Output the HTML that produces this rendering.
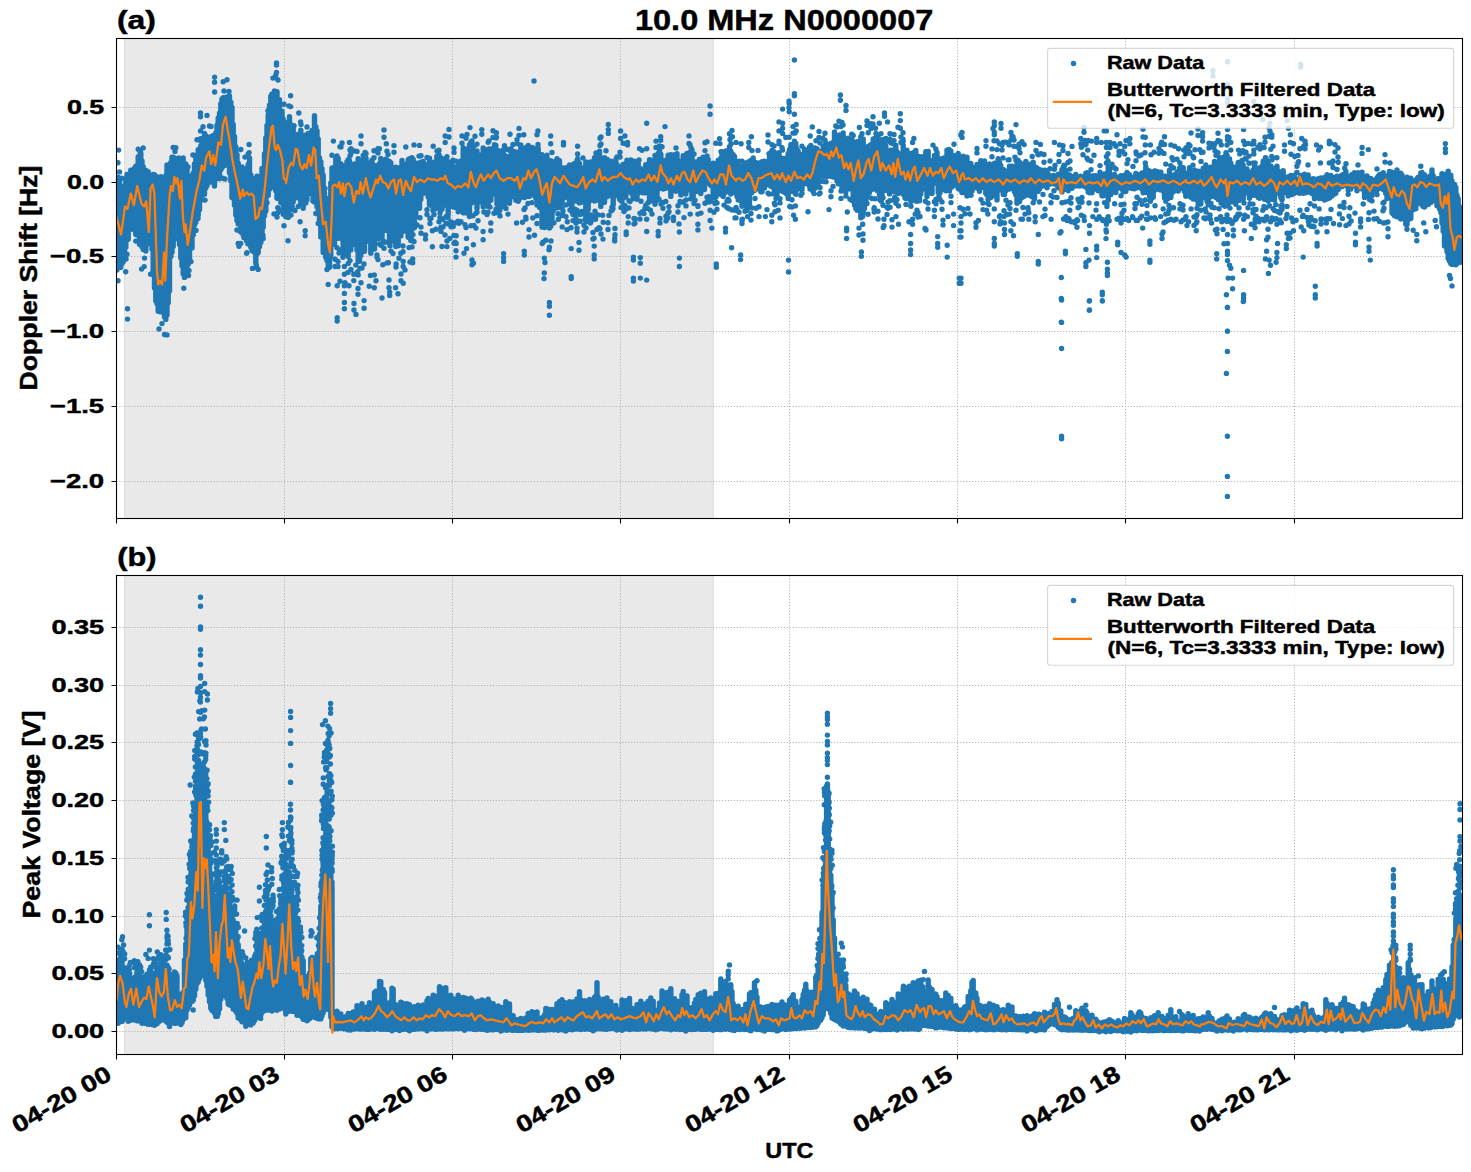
<!DOCTYPE html>
<html><head><meta charset="utf-8"><title>chart</title><style>html,body{margin:0;padding:0;background:#fff;overflow:hidden}svg{display:block}text{stroke:#000;stroke-width:.45px;stroke-linejoin:round}</style></head><body>
<svg width="1471" height="1172" viewBox="0 0 1471 1172" font-family="Liberation Sans, sans-serif" font-weight="bold" fill="#000">
<rect width="1471" height="1172" fill="#fff"/>
<defs><clipPath id="ca"><rect x="116.5" y="38.5" width="1346.0" height="480.0"/></clipPath><clipPath id="cb"><rect x="116.5" y="575.5" width="1346.0" height="479.0"/></clipPath></defs>
<rect x="124" y="38.5" width="589.7" height="480.0" fill="#e9e9e9"/>
<path d="M124.5 38.5V518.5M713.2 38.5V518.5" stroke="#dcdcdc" stroke-width="1" fill="none"/>
<path d="M284.50 38.5V518.5M452.50 38.5V518.5M620.50 38.5V518.5M789.50 38.5V518.5M957.50 38.5V518.5M1125.50 38.5V518.5M1294.50 38.5V518.5M116.5 107.50H1462.5M116.5 182.50H1462.5M116.5 256.50H1462.5M116.5 331.50H1462.5M116.5 406.50H1462.5M116.5 481.50H1462.5" stroke="#b0b0b0" stroke-width="1" stroke-dasharray="1.11 1.83" fill="none"/>
<g clip-path="url(#ca)">
<path d="M117.0 177.6V270.1M118.2 177.2V259.1M119.5 179.5V263.0M120.8 185.7V267.4M122.0 190.0V263.4M123.2 186.4V261.8M124.5 186.9V255.0M125.8 179.6V247.2M127.0 174.4V239.5M128.2 177.6V239.2M129.5 174.5V229.9M130.8 170.3V228.9M132.0 182.7V225.1M133.2 170.8V228.4M134.5 168.1V230.0M135.8 166.3V234.4M137.0 165.7V234.9M138.2 156.8V228.3M139.5 164.1V244.2M140.8 153.0V244.4M142.0 161.0V246.7M143.2 166.7V249.5M144.5 172.6V249.7M145.8 170.1V251.1M147.0 173.3V244.3M148.2 171.7V242.2M149.5 180.1V243.2M150.8 184.9V242.7M152.0 177.1V249.0M153.2 174.5V273.4M154.5 174.7V288.1M155.8 176.2V301.1M157.0 176.9V303.5M158.2 184.6V311.2M159.5 180.5V311.3M160.8 176.7V311.9M162.0 188.4V309.3M163.2 187.7V310.4M164.5 179.3V317.1M165.8 175.8V319.4M167.0 164.9V315.1M168.2 166.3V302.8M169.5 168.2V291.0M170.8 162.5V253.0M172.0 157.3V252.2M173.2 157.1V246.5M174.5 160.3V239.2M175.8 158.4V234.0M177.0 158.8V237.3M178.2 158.1V235.7M179.5 158.1V244.6M180.8 162.2V257.8M182.0 160.3V265.7M183.2 157.9V274.0M184.5 164.6V277.4M185.8 164.0V274.7M187.0 169.4V266.5M188.2 181.4V264.2M189.5 184.9V259.6M190.8 180.9V247.8M192.0 175.4V247.9M193.2 172.9V234.9M194.5 164.0V225.0M195.8 159.0V222.5M197.0 161.3V215.8M198.2 149.7V215.0M199.5 148.6V209.8M200.8 145.6V196.7M202.0 142.8V188.6M203.2 138.2V188.1M204.5 133.4V194.3M205.8 135.8V187.9M207.0 138.4V185.5M208.2 143.1V182.0M209.5 137.2V181.2M210.8 136.7V182.1M212.0 137.0V177.5M213.2 135.5V172.4M214.5 137.6V186.1M215.8 132.8V179.1M217.0 125.3V176.9M218.2 117.9V173.5M219.5 113.1V178.8M220.8 103.8V169.7M222.0 98.9V167.8M223.2 97.8V162.7M224.5 97.9V165.5M225.8 97.8V161.2M227.0 96.9V163.6M228.2 97.1V163.4M229.5 96.0V172.9M230.8 102.1V180.8M232.0 107.4V195.8M233.2 124.4V198.0M234.5 136.5V205.2M235.8 146.8V214.9M237.0 154.4V220.5M238.2 163.1V223.9M239.5 168.2V224.2M240.8 171.1V228.9M242.0 167.0V228.3M243.2 171.7V235.1M244.5 171.7V228.3M245.8 174.8V223.2M247.0 168.2V234.5M248.2 164.5V241.0M249.5 158.0V242.0M250.8 174.9V247.2M252.0 177.9V250.6M253.2 178.7V251.6M254.5 186.1V252.3M255.8 185.3V262.9M257.0 184.1V254.2M258.2 178.8V252.5M259.5 177.0V246.5M260.8 177.4V242.6M262.0 168.5V234.9M263.2 169.7V227.2M264.5 153.8V215.7M265.8 138.0V211.3M267.0 125.5V195.6M268.2 115.0V195.5M269.5 105.3V189.2M270.8 96.2V180.0M272.0 94.0V177.0M273.2 96.9V184.3M274.5 91.0V188.1M275.8 91.6V190.8M277.0 91.8V198.2M278.2 99.4V196.5M279.5 99.8V198.1M280.8 111.7V202.4M282.0 111.2V201.5M283.2 119.2V214.3M284.5 125.2V213.5M285.8 127.8V216.8M287.0 129.5V214.4M288.2 122.1V217.4M289.5 116.7V208.6M290.8 124.4V208.2M292.0 126.6V209.1M293.2 127.0V202.0M294.5 139.7V198.4M295.8 135.0V197.0M297.0 137.6V193.6M298.2 134.3V189.1M299.5 139.8V198.6M300.8 130.3V204.4M302.0 139.6V204.1M303.2 142.3V208.2M304.5 137.9V201.4M305.8 134.9V202.9M307.0 140.0V199.7M308.2 133.4V189.9M309.5 134.5V193.4M310.8 138.6V191.9M312.0 130.4V191.4M313.2 131.0V200.2M314.5 115.8V201.9M315.8 126.8V200.7M317.0 130.6V206.7M318.2 139.0V213.0M319.5 157.7V220.9M320.8 161.7V237.0M322.0 168.6V236.7M323.2 175.3V250.2M324.5 192.6V244.7M325.8 203.9V257.4M327.0 205.8V260.6M328.2 207.6V265.7M329.5 197.9V267.3M330.8 183.0V256.6M332.0 167.9V240.9M333.2 168.2V231.0M334.5 167.5V244.4M335.8 158.5V218.8M337.0 156.0V238.4M338.2 158.4V225.4M339.5 164.0V236.9M340.8 163.8V238.5M342.0 165.5V236.8M343.2 166.4V251.1M344.5 166.2V231.0M345.8 165.7V223.3M347.0 161.6V232.7M348.2 159.8V256.6M349.5 160.6V248.1M350.8 165.2V249.9M352.0 169.3V235.7M353.2 168.4V239.1M354.5 163.9V230.8M355.8 167.6V245.1M357.0 167.1V250.2M358.2 158.6V261.4M359.5 168.7V261.2M360.8 165.7V255.4M362.0 160.1V233.4M363.2 164.3V236.1M364.5 165.7V251.2M365.8 160.0V241.7M367.0 169.4V237.5M368.2 165.5V233.3M369.5 162.6V234.8M370.8 165.3V253.3M372.0 160.2V225.7M373.2 165.9V230.2M374.5 165.4V249.0M375.8 171.7V235.2M377.0 165.4V218.6M378.2 166.2V238.9M379.5 163.6V236.2M380.8 158.5V236.9M382.0 164.4V238.0M383.2 168.2V206.9M384.5 165.5V230.4M385.8 159.2V216.9M387.0 159.9V230.6M388.2 168.2V210.2M389.5 161.5V243.2M390.8 162.6V222.4M392.0 173.0V237.0M393.2 168.5V241.1M394.5 170.2V226.1M395.8 167.2V246.6M397.0 172.8V231.0M398.2 172.4V245.7M399.5 167.8V223.0M400.8 167.8V235.9M402.0 160.4V230.9M403.2 170.5V230.2M404.5 169.3V231.0M405.8 168.3V217.3M407.0 163.9V224.3M408.2 159.8V237.3M409.5 158.7V228.6M410.8 165.4V240.5M412.0 157.8V229.4M413.2 159.5V225.9M414.5 164.0V227.5M415.8 164.2V217.0M417.0 163.1V203.8M418.2 165.8V197.4M419.5 164.4V208.3M420.8 162.2V199.4M422.0 165.5V187.5M423.2 161.4V193.4M424.5 165.9V190.1M425.8 167.7V188.6M427.0 168.9V189.4M428.2 163.9V197.0M429.5 158.3V205.0M430.8 169.0V194.9M432.0 164.1V196.6M433.2 164.1V208.0M434.5 162.0V187.6M435.8 163.8V208.7M437.0 157.1V208.0M438.2 157.7V193.5M439.5 163.1V204.5M440.8 157.8V209.6M442.0 168.0V209.3M443.2 165.7V202.2M444.5 158.9V205.1M445.8 158.7V199.1M447.0 171.7V189.4M448.2 161.6V214.3M449.5 167.9V200.4M450.8 163.0V201.9M452.0 164.2V206.3M453.2 167.2V199.3M454.5 168.3V207.2M455.8 168.1V195.2M457.0 166.8V206.2M458.2 162.3V211.8M459.5 168.8V206.1M460.8 161.3V209.2M462.0 160.4V195.4M463.2 147.7V212.8M464.5 151.1V212.5M465.8 150.8V212.9M467.0 149.4V209.5M468.2 148.7V203.7M469.5 144.6V216.5M470.8 142.2V198.5M472.0 149.3V202.7M473.2 150.1V190.6M474.5 156.2V190.4M475.8 155.9V201.0M477.0 150.9V208.6M478.2 155.2V195.0M479.5 158.2V200.5M480.8 155.0V201.9M482.0 161.2V195.1M483.2 147.9V206.7M484.5 151.5V199.2M485.8 155.4V206.0M487.0 150.8V198.3M488.2 149.3V206.2M489.5 149.0V194.3M490.8 149.0V200.2M492.0 151.0V192.3M493.2 150.9V193.9M494.5 144.8V193.0M495.8 145.3V191.7M497.0 153.6V204.3M498.2 150.7V192.7M499.5 151.9V206.6M500.8 154.0V206.0M502.0 153.3V196.8M503.2 149.7V206.5M504.5 155.1V205.6M505.8 157.6V195.7M507.0 158.6V199.2M508.2 157.0V195.9M509.5 156.3V203.2M510.8 158.3V197.2M512.0 154.5V193.9M513.2 160.8V188.6M514.5 160.0V196.9M515.8 152.0V200.3M517.0 152.7V198.7M518.2 157.3V201.3M519.5 153.1V198.8M520.8 144.9V193.3M522.0 151.5V189.4M523.2 150.8V196.8M524.5 148.1V197.6M525.8 149.7V191.0M527.0 146.7V196.2M528.2 145.5V196.4M529.5 150.1V196.3M530.8 149.0V190.2M532.0 147.4V192.1M533.2 148.2V194.9M534.5 150.6V192.9M535.8 149.0V198.0M537.0 150.7V204.9M538.2 148.3V198.0M539.5 157.2V207.3M540.8 164.2V207.4M542.0 154.6V227.1M543.2 163.1V223.9M544.5 157.3V227.5M545.8 163.3V226.7M547.0 157.6V224.9M548.2 161.3V226.3M549.5 161.3V228.0M550.8 160.8V226.3M552.0 167.0V218.4M553.2 164.7V210.5M554.5 161.8V208.5M555.8 167.1V203.3M557.0 168.9V197.1M558.2 164.3V205.3M559.5 160.8V187.8M560.8 167.8V193.3M562.0 168.4V202.6M563.2 167.9V192.2M564.5 168.7V197.8M565.8 171.1V192.4M567.0 167.5V191.3M568.2 174.4V191.1M569.5 165.0V204.1M570.8 171.9V198.0M572.0 173.6V204.1M573.2 165.2V193.8M574.5 171.7V199.6M575.8 177.1V190.0M577.0 171.6V201.3M578.2 164.7V194.6M579.5 163.4V202.9M580.8 167.9V202.5M582.0 171.2V198.9M583.2 170.3V196.5M584.5 167.4V199.6M585.8 162.3V208.4M587.0 162.2V201.6M588.2 163.5V209.4M589.5 169.3V200.9M590.8 162.0V195.5M592.0 166.3V196.8M593.2 164.5V198.9M594.5 157.6V201.1M595.8 160.2V200.1M597.0 158.7V200.1M598.2 154.5V192.7M599.5 151.2V190.4M600.8 160.5V206.4M602.0 163.5V201.7M603.2 163.2V189.3M604.5 157.6V202.3M605.8 164.3V195.2M607.0 159.3V196.8M608.2 165.0V192.2M609.5 166.7V194.6M610.8 161.2V193.9M612.0 165.6V196.3M613.2 169.6V204.7M614.5 165.5V195.9M615.8 159.5V192.7M617.0 164.6V195.1M618.2 169.6V189.2M619.5 169.9V199.1M620.8 170.2V185.3M622.0 166.1V197.3M623.2 164.5V187.7M624.5 164.7V186.7M625.8 163.5V197.1M627.0 160.2V185.5M628.2 165.7V191.7M629.5 166.8V186.5M630.8 160.0V192.3M632.0 166.6V193.7M633.2 165.3V198.8M634.5 161.3V198.3M635.8 168.3V185.7M637.0 167.8V199.3M638.2 163.5V192.8M639.5 169.9V187.4M640.8 168.6V187.4M642.0 169.1V192.5M643.2 170.5V186.5M644.5 170.6V192.9M645.8 164.8V179.7M647.0 168.8V186.4M648.2 166.8V192.7M649.5 159.8V201.6M650.8 161.0V187.7M652.0 160.2V200.7M653.2 167.1V189.8M654.5 167.5V200.3M655.8 160.0V190.3M657.0 158.4V198.1M658.2 153.5V189.2M659.5 146.0V182.8M660.8 154.3V183.6M662.0 160.3V181.0M663.2 166.4V189.0M664.5 161.6V184.8M665.8 160.4V188.2M667.0 159.4V187.4M668.2 155.1V183.9M669.5 161.9V186.8M670.8 154.8V196.4M672.0 161.9V181.8M673.2 157.4V187.2M674.5 154.8V179.8M675.8 157.8V191.3M677.0 153.8V186.2M678.2 160.7V179.8M679.5 161.5V188.8M680.8 162.8V193.7M682.0 162.6V187.2M683.2 155.7V181.1M684.5 163.5V193.2M685.8 156.0V194.1M687.0 156.8V187.9M688.2 165.1V189.7M689.5 159.7V188.4M690.8 163.8V186.1M692.0 155.1V195.4M693.2 166.1V195.8M694.5 161.9V184.4M695.8 163.1V181.9M697.0 161.7V191.3M698.2 162.9V181.6M699.5 159.4V181.7M700.8 159.5V193.6M702.0 158.6V179.9M703.2 157.1V189.6M704.5 160.2V189.6M705.8 161.8V182.7M707.0 155.9V179.6M708.2 159.4V183.4M709.5 163.9V183.2M710.8 165.9V185.6M712.0 166.1V185.5M713.2 163.3V195.1M714.5 166.8V191.2M715.8 163.8V195.2M717.0 163.7V186.1M718.2 160.1V191.3M719.5 163.8V190.6M720.8 158.3V194.6M722.0 152.0V192.8M723.2 156.3V196.5M724.5 151.6V191.6M725.8 150.9V192.3M727.0 158.3V187.1M728.2 153.8V188.6M729.5 146.8V188.7M730.8 151.1V194.0M732.0 153.7V190.4M733.2 154.6V187.6M734.5 156.5V192.5M735.8 161.9V185.1M737.0 168.3V196.6M738.2 165.5V200.0M739.5 168.4V200.1M740.8 167.1V194.9M742.0 165.9V206.3M743.2 167.4V202.4M744.5 166.4V201.5M745.8 163.0V204.5M747.0 163.6V210.0M748.2 161.9V199.6M749.5 167.8V204.2M750.8 160.5V193.5M752.0 160.3V192.6M753.2 158.0V187.8M754.5 166.8V190.4M755.8 162.5V188.6M757.0 167.6V187.7M758.2 172.6V188.8M759.5 163.0V185.6M760.8 162.9V191.7M762.0 161.8V191.8M763.2 161.9V187.9M764.5 161.1V187.9M765.8 165.6V184.6M767.0 163.5V181.7M768.2 161.4V184.6M769.5 156.7V181.2M770.8 164.2V186.3M772.0 161.4V186.7M773.2 155.2V187.4M774.5 165.1V192.2M775.8 164.4V185.2M777.0 157.7V195.1M778.2 166.5V181.0M779.5 156.1V190.4M780.8 165.4V190.3M782.0 159.3V189.5M783.2 158.5V191.8M784.5 165.2V188.6M785.8 158.2V193.2M787.0 161.3V193.9M788.2 153.5V198.5M789.5 149.7V190.5M790.8 144.7V191.3M792.0 144.8V189.7M793.2 150.9V191.7M794.5 149.2V189.1M795.8 143.4V194.2M797.0 149.0V189.8M798.2 151.3V185.0M799.5 157.1V180.9M800.8 156.4V187.1M802.0 154.5V189.5M803.2 154.4V182.1M804.5 149.2V179.4M805.8 154.1V183.6M807.0 156.6V181.6M808.2 152.0V179.2M809.5 147.0V185.9M810.8 145.5V187.3M812.0 148.4V181.1M813.2 148.5V185.0M814.5 147.9V188.4M815.8 148.2V187.6M817.0 148.6V178.3M818.2 151.3V183.0M819.5 152.3V175.5M820.8 151.5V172.3M822.0 151.1V170.1M823.2 146.2V176.4M824.5 153.4V171.7M825.8 143.3V169.5M827.0 146.8V176.6M828.2 148.9V170.7M829.5 150.9V170.0M830.8 143.5V176.2M832.0 144.7V164.6M833.2 142.5V177.0M834.5 132.0V173.6M835.8 137.8V173.2M837.0 136.8V180.8M838.2 136.1V183.7M839.5 134.9V181.6M840.8 135.0V184.1M842.0 138.9V188.6M843.2 132.9V185.9M844.5 145.1V182.9M845.8 144.1V192.3M847.0 143.2V185.4M848.2 138.3V185.9M849.5 145.4V188.8M850.8 146.9V187.9M852.0 139.8V189.1M853.2 142.6V198.6M854.5 143.2V193.5M855.8 144.1V197.8M857.0 141.8V200.6M858.2 143.0V209.4M859.5 146.0V207.2M860.8 136.9V217.8M862.0 141.5V213.1M863.2 138.9V213.2M864.5 147.7V208.6M865.8 148.1V200.5M867.0 151.8V196.5M868.2 146.4V192.2M869.5 147.0V192.4M870.8 144.8V190.1M872.0 148.6V188.8M873.2 139.0V188.6M874.5 143.5V189.0M875.8 137.4V189.1M877.0 144.0V190.5M878.2 137.2V190.3M879.5 142.2V195.5M880.8 145.0V184.6M882.0 144.5V195.4M883.2 139.4V189.4M884.5 144.6V183.6M885.8 146.0V190.4M887.0 154.9V188.1M888.2 155.4V188.8M889.5 154.4V193.9M890.8 150.2V188.5M892.0 150.3V182.4M893.2 153.0V185.6M894.5 158.1V192.1M895.8 145.1V187.7M897.0 151.7V187.6M898.2 153.2V193.4M899.5 155.8V184.4M900.8 160.9V184.9M902.0 158.9V182.8M903.2 145.2V194.2M904.5 150.0V187.6M905.8 158.2V194.3M907.0 150.3V194.4M908.2 160.3V182.4M909.5 153.4V194.7M910.8 163.7V179.9M912.0 158.6V198.5M913.2 152.7V194.6M914.5 165.1V186.7M915.8 150.4V201.0M917.0 156.5V201.3M918.2 156.2V191.0M919.5 158.9V200.7M920.8 169.1V193.9M922.0 156.6V185.6M923.2 158.8V185.0M924.5 158.1V186.0M925.8 151.8V189.6M927.0 152.6V196.6M928.2 151.4V191.0M929.5 166.6V189.5M930.8 164.8V177.6M932.0 161.7V193.6M933.2 160.2V183.4M934.5 155.5V178.3M935.8 163.2V181.0M937.0 152.5V183.5M938.2 158.5V192.6M939.5 158.8V180.7M940.8 162.5V181.9M942.0 161.9V177.8M943.2 158.1V189.6M944.5 157.7V178.1M945.8 169.8V190.8M947.0 150.2V175.1M948.2 150.3V180.5M949.5 162.6V191.1M950.8 151.0V183.4M952.0 161.8V187.0M953.2 158.6V183.4M954.5 155.7V183.1M955.8 162.6V178.6M957.0 158.3V185.7M958.2 153.4V188.5M959.5 158.3V188.5M960.8 158.9V190.3M962.0 158.8V192.6M963.2 156.2V190.1M964.5 159.1V189.0M965.8 162.0V193.2M967.0 157.2V183.8M968.2 164.7V191.2M969.5 171.2V187.1M970.8 163.5V184.5M972.0 173.3V191.1M973.2 171.9V188.2M974.5 167.4V187.4M975.8 170.8V186.7M977.0 164.4V188.1M978.2 168.1V187.8M979.5 166.9V191.2M980.8 160.7V186.9M982.0 166.9V187.2M983.2 167.2V185.4M984.5 161.0V186.4M985.8 169.3V193.5M987.0 167.2V194.9M988.2 164.6V195.2M989.5 164.0V190.8M990.8 166.3V197.6M992.0 167.6V193.9M993.2 165.3V195.5M994.5 163.1V195.5M995.8 163.6V193.1M997.0 165.0V199.9M998.2 158.8V190.0M999.5 162.2V189.7M1000.8 165.5V188.7M1002.0 170.4V187.4M1003.2 169.5V194.6M1004.5 172.1V194.4M1005.8 171.1V190.8M1007.0 171.3V189.6M1008.2 171.7V187.8M1009.5 166.1V189.1M1010.8 169.6V181.8M1012.0 166.3V188.3M1013.2 173.1V188.0M1014.5 170.3V191.7M1015.8 168.6V194.8M1017.0 164.3V203.3M1018.2 166.8V196.7M1019.5 162.1V201.8M1020.8 174.3V198.4M1022.0 171.1V197.5M1023.2 163.9V196.7M1024.5 168.2V196.0M1025.8 161.5V188.1M1027.0 165.0V192.2M1028.2 168.1V195.0M1029.5 164.3V194.4M1030.8 166.7V196.1M1032.0 169.6V196.7M1033.2 162.2V196.3M1034.5 167.7V199.1M1035.8 167.1V185.9M1037.0 168.3V186.0M1038.2 168.9V191.3M1039.5 173.7V189.0M1040.8 169.9V179.7M1042.0 171.0V186.2M1043.2 172.6V182.6M1044.5 170.2V185.4M1045.8 170.5V181.8M1047.0 172.5V187.7M1048.2 174.2V183.7M1049.5 178.0V184.2M1050.8 178.3V182.1M1052.0 177.5V182.5M1053.2 175.5V183.8M1054.5 175.7V183.3M1055.8 180.1V183.5M1057.0 178.6V185.4M1058.2 174.3V187.8M1059.5 174.5V187.9M1060.8 173.7V187.2M1062.0 169.5V191.9M1063.2 167.3V189.7M1064.5 175.4V188.6M1065.8 170.4V188.8M1067.0 175.3V189.8M1068.2 174.8V190.7M1069.5 175.0V186.6M1070.8 176.3V187.0M1072.0 176.4V188.3M1073.2 177.9V183.3M1074.5 176.8V186.1M1075.8 174.5V184.5M1077.0 178.2V185.7M1078.2 178.1V185.4M1079.5 179.0V186.1M1080.8 176.3V183.6M1082.0 179.8V184.4M1083.2 180.5V186.0M1084.5 177.5V185.7M1085.8 173.1V187.0M1087.0 172.8V188.0M1088.2 173.1V191.9M1089.5 176.9V192.8M1090.8 181.2V189.3M1092.0 176.2V192.8M1093.2 175.6V189.0M1094.5 180.2V189.0M1095.8 175.7V188.2M1097.0 177.7V188.8M1098.2 177.0V190.8M1099.5 180.0V189.7M1100.8 176.0V190.8M1102.0 184.8V195.8M1103.2 181.3V195.7M1104.5 173.9V195.0M1105.8 175.4V188.4M1107.0 176.8V194.8M1108.2 169.5V200.2M1109.5 168.1V192.4M1110.8 180.8V194.5M1112.0 176.2V192.2M1113.2 176.4V189.9M1114.5 174.4V190.3M1115.8 179.9V192.6M1117.0 177.1V186.9M1118.2 178.3V184.4M1119.5 183.8V187.7M1120.8 175.8V188.1M1122.0 177.5V189.2M1123.2 180.6V191.8M1124.5 175.3V186.5M1125.8 178.4V191.4M1127.0 174.6V187.5M1128.2 178.8V188.0M1129.5 174.8V187.5M1130.8 178.0V186.6M1132.0 178.9V188.6M1133.2 177.2V187.5M1134.5 177.5V188.7M1135.8 173.4V184.8M1137.0 174.9V187.8M1138.2 174.4V186.3M1139.5 176.7V182.3M1140.8 177.3V184.0M1142.0 173.0V189.2M1143.2 174.8V192.7M1144.5 172.4V189.0M1145.8 166.7V192.2M1147.0 169.9V189.4M1148.2 172.2V191.2M1149.5 171.0V196.0M1150.8 175.7V199.7M1152.0 172.6V195.5M1153.2 174.0V197.2M1154.5 171.0V190.6M1155.8 171.2V185.7M1157.0 176.0V188.5M1158.2 172.0V185.1M1159.5 176.9V189.8M1160.8 172.2V189.5M1162.0 182.9V183.6M1163.2 177.8V191.2M1164.5 176.2V198.0M1165.8 176.5V201.2M1167.0 178.3V196.0M1168.2 176.1V198.6M1169.5 170.2V195.1M1170.8 177.7V197.4M1172.0 175.5V193.0M1173.2 178.3V190.0M1174.5 174.6V191.1M1175.8 174.3V187.9M1177.0 172.2V189.0M1178.2 171.4V191.0M1179.5 168.3V189.0M1180.8 167.2V187.0M1182.0 170.9V180.5M1183.2 167.7V188.0M1184.5 174.4V191.5M1185.8 173.1V196.3M1187.0 176.4V194.6M1188.2 173.6V194.7M1189.5 167.7V195.8M1190.8 173.4V197.3M1192.0 176.9V195.4M1193.2 174.8V199.0M1194.5 170.0V199.0M1195.8 174.2V199.3M1197.0 181.5V196.5M1198.2 171.1V204.4M1199.5 174.5V193.8M1200.8 177.9V204.1M1202.0 171.6V196.7M1203.2 168.3V196.3M1204.5 172.3V195.4M1205.8 165.0V198.0M1207.0 174.5V201.2M1208.2 171.1V201.6M1209.5 171.2V192.4M1210.8 167.2V196.8M1212.0 169.4V191.1M1213.2 167.6V194.6M1214.5 161.4V194.3M1215.8 166.2V197.4M1217.0 165.2V194.6M1218.2 163.9V199.4M1219.5 157.5V199.7M1220.8 166.7V198.9M1222.0 168.7V194.6M1223.2 157.4V200.9M1224.5 160.6V200.4M1225.8 155.6V194.5M1227.0 155.1V193.7M1228.2 162.5V204.1M1229.5 158.7V200.0M1230.8 163.2V201.3M1232.0 166.8V201.9M1233.2 177.0V198.8M1234.5 168.2V200.9M1235.8 167.0V204.3M1237.0 170.5V195.9M1238.2 162.5V196.9M1239.5 168.8V200.3M1240.8 167.8V190.0M1242.0 160.5V195.6M1243.2 165.1V198.9M1244.5 172.6V193.6M1245.8 174.9V192.4M1247.0 168.9V184.8M1248.2 173.8V191.0M1249.5 179.1V198.2M1250.8 174.6V193.4M1252.0 171.6V195.4M1253.2 170.0V189.1M1254.5 164.9V195.1M1255.8 173.9V194.3M1257.0 172.3V190.8M1258.2 169.5V197.5M1259.5 167.7V198.3M1260.8 167.6V191.9M1262.0 166.1V196.1M1263.2 161.3V198.0M1264.5 165.1V199.2M1265.8 168.3V198.4M1267.0 160.7V197.2M1268.2 161.4V201.1M1269.5 169.2V194.8M1270.8 166.0V192.2M1272.0 169.1V199.2M1273.2 168.3V194.2M1274.5 168.4V200.1M1275.8 168.7V192.5M1277.0 166.2V191.5M1278.2 171.3V191.4M1279.5 173.4V193.8M1280.8 172.7V197.6M1282.0 175.2V197.9M1283.2 170.8V191.6M1284.5 181.6V190.8M1285.8 178.5V191.1M1287.0 177.3V193.1M1288.2 176.6V195.9M1289.5 180.2V191.6M1290.8 175.5V194.4M1292.0 177.3V194.6M1293.2 178.9V191.6M1294.5 175.1V193.3M1295.8 182.2V189.3M1297.0 184.0V189.9M1298.2 179.2V188.4M1299.5 179.2V193.3M1300.8 175.4V190.2M1302.0 177.3V190.9M1303.2 182.9V193.2M1304.5 174.3V191.3M1305.8 179.2V192.7M1307.0 179.0V189.4M1308.2 175.0V191.0M1309.5 178.9V187.9M1310.8 180.9V192.8M1312.0 179.5V193.6M1313.2 178.6V194.3M1314.5 179.1V198.7M1315.8 181.0V197.5M1317.0 179.3V190.2M1318.2 178.9V198.0M1319.5 180.0V198.5M1320.8 177.9V194.7M1322.0 181.2V198.3M1323.2 180.3V197.0M1324.5 177.4V200.1M1325.8 178.0V198.3M1327.0 174.8V199.1M1328.2 180.5V196.6M1329.5 180.3V198.0M1330.8 175.4V194.6M1332.0 177.8V196.0M1333.2 181.3V190.4M1334.5 177.4V193.9M1335.8 177.5V193.2M1337.0 176.3V188.1M1338.2 178.1V189.4M1339.5 176.5V187.4M1340.8 176.8V183.8M1342.0 175.2V186.5M1343.2 174.4V184.5M1344.5 175.8V185.4M1345.8 171.3V184.0M1347.0 177.9V186.0M1348.2 176.3V190.0M1349.5 180.1V187.1M1350.8 176.7V189.0M1352.0 174.4V185.8M1353.2 177.3V185.9M1354.5 172.7V184.4M1355.8 174.7V185.6M1357.0 173.9V190.7M1358.2 172.6V187.4M1359.5 174.0V186.1M1360.8 174.6V186.7M1362.0 172.2V189.0M1363.2 178.1V186.8M1364.5 181.6V197.4M1365.8 180.2V190.3M1367.0 175.9V195.7M1368.2 183.1V193.4M1369.5 180.2V199.5M1370.8 178.5V196.3M1372.0 184.0V195.7M1373.2 182.2V191.3M1374.5 181.4V188.2M1375.8 179.7V187.2M1377.0 177.9V190.1M1378.2 176.2V188.4M1379.5 174.6V187.9M1380.8 174.3V188.2M1382.0 176.7V185.1M1383.2 172.7V189.5M1384.5 175.1V190.3M1385.8 177.6V193.4M1387.0 179.8V198.5M1388.2 176.4V196.6M1389.5 171.4V195.4M1390.8 177.0V189.2M1392.0 172.2V212.8M1393.2 175.5V214.0M1394.5 177.0V215.8M1395.8 173.7V215.3M1397.0 169.9V216.8M1398.2 173.0V201.5M1399.5 185.0V209.7M1400.8 173.2V219.1M1402.0 175.2V205.0M1403.2 182.5V206.9M1404.5 181.4V216.0M1405.8 182.6V224.3M1407.0 177.2V224.6M1408.2 183.7V219.6M1409.5 180.8V214.0M1410.8 178.2V218.5M1412.0 181.2V191.6M1413.2 183.1V209.7M1414.5 181.3V207.3M1415.8 180.2V208.8M1417.0 178.8V202.6M1418.2 177.3V203.0M1419.5 177.7V193.7M1420.8 172.9V201.3M1422.0 172.5V204.9M1423.2 179.4V206.5M1424.5 174.7V207.0M1425.8 182.4V205.1M1427.0 184.6V202.6M1428.2 177.4V204.5M1429.5 176.5V186.8M1430.8 175.6V202.6M1432.0 169.9V201.3M1433.2 175.8V193.1M1434.5 178.9V191.6M1435.8 184.5V198.8M1437.0 178.9V205.7M1438.2 178.7V201.5M1439.5 180.9V208.7M1440.8 181.1V212.6M1442.0 173.8V223.1M1443.2 180.5V231.2M1444.5 183.2V246.1M1445.8 174.2V246.5M1447.0 179.0V251.6M1448.2 179.4V258.4M1449.5 179.2V261.1M1450.8 175.2V263.6M1452.0 180.9V264.4M1453.2 184.4V263.2M1454.5 184.4V260.3M1455.8 187.4V264.7M1457.0 195.3V263.5M1458.2 198.7V254.5M1459.5 206.7V252.5M1460.8 208.3V262.2" stroke="#1f77b4" stroke-width="5.4" stroke-linecap="round" fill="none"/>
<path d="M119.5 171.9h0M127.0 254.2h0M135.8 241.1h0M138.2 149.3h0M143.2 147.9h0M144.5 258.1h0M164.5 334.5h0M167.0 334.9h0M173.2 147.4h0M175.8 147.8h0M199.5 140.0h0M207.0 115.4h0M209.5 126.0h0M223.2 81.8h0M223.2 178.3h0M227.0 79.8h0M238.2 243.4h0M240.8 149.5h0M248.2 153.9h0M258.2 269.4h0M263.2 238.6h0M275.8 75.1h0M293.2 209.6h0M298.2 206.4h0M315.8 213.5h0M318.2 223.4h0M323.2 252.4h0M328.2 284.4h0M332.0 155.3h0M339.5 250.0h0M342.0 143.0h0M342.0 251.7h0M348.2 263.4h0M350.8 153.8h0M354.5 150.9h0M355.8 265.1h0M358.2 274.9h0M363.2 155.5h0M377.0 254.9h0M379.5 244.1h0M387.0 151.3h0M400.8 253.3h0M419.5 145.4h0M437.0 151.0h0M453.2 226.5h0M474.5 145.6h0M488.2 142.3h0M504.5 145.6h0M517.0 139.8h0M525.8 217.2h0M537.0 134.7h0M545.8 240.3h0M585.8 211.8h0M603.2 222.2h0M617.0 157.0h0M623.2 143.2h0M639.5 148.6h0M645.8 205.1h0M655.8 201.6h0M665.8 201.4h0M683.2 202.0h0M690.8 198.8h0M692.0 149.9h0M710.8 201.2h0M715.8 143.2h0M719.5 138.6h0M728.2 199.3h0M729.5 133.8h0M732.0 130.5h0M737.0 209.6h0M742.0 222.1h0M752.0 207.9h0M778.2 154.1h0M785.8 137.5h0M800.8 195.2h0M802.0 193.3h0M835.8 125.9h0M837.0 126.9h0M853.2 135.4h0M854.5 204.9h0M855.8 208.4h0M868.2 132.8h0M872.0 198.6h0M880.8 199.5h0M888.2 141.3h0M890.8 142.7h0M897.0 199.6h0M903.2 141.2h0M905.8 198.5h0M935.8 148.9h0M960.8 134.9h0M1008.2 159.9h0M1028.2 209.4h0M1033.2 202.7h0M1038.2 154.8h0M1039.5 202.0h0M1053.2 197.1h0M1104.5 202.6h0M1107.0 204.8h0M1142.0 204.2h0M1170.8 165.6h0M1200.8 210.3h0M1208.2 204.8h0M1219.5 141.8h0M1223.2 204.9h0M1227.0 145.0h0M1253.2 162.9h0M1253.2 209.6h0M1265.8 207.7h0M1269.5 205.7h0M1270.8 149.2h0M1272.0 159.8h0M1274.5 210.5h0M1275.8 204.6h0M1282.0 200.0h0M1314.5 206.0h0M1332.0 162.9h0M1338.2 162.2h0M1348.2 194.3h0M1363.2 203.9h0M1377.0 168.9h0M1377.0 194.5h0M1413.2 230.2h0M1420.8 166.3h0M1425.8 231.7h0M1448.2 171.3h0M1449.5 275.5h0M1452.0 285.9h0M118.6 150.1h0M140.3 150.1h0M140.3 153.9h0M214.6 77.1h0M214.6 82.2h0M214.6 92.0h0M200.5 113.0h0M200.5 116.8h0M200.5 130.9h0M200.5 138.6h0M249.1 144.5h0M249.1 152.6h0M276.5 63.0h0M276.5 65.1h0M276.5 72.5h0M277.8 79.7h0M127.5 308.8h0M127.5 319.1h0M141.6 269.1h0M144.2 266.6h0M150.6 274.3h0M183.8 288.3h0M189.0 270.4h0M188.5 275.5h0M240.7 232.0h0M240.7 243.5h0M246.6 241.0h0M246.6 253.3h0M252.5 268.4h0M256.3 265.3h0M118.0 280.7h0M125.7 271.7h0M277.8 207.7h0M277.8 212.8h0M171.0 256.3h0M290.6 95.8h0M290.6 106.6h0M298.8 113.0h0M300.6 121.9h0M333.4 141.1h0M349.5 142.4h0M361.0 136.0h0M361.0 143.7h0M386.3 143.7h0M379.4 148.8h0M405.8 147.0h0M414.0 144.9h0M433.2 146.2h0M445.2 136.0h0M445.2 142.4h0M481.8 129.6h0M481.8 134.2h0M496.4 132.7h0M496.4 137.3h0M510.0 134.2h0M305.2 230.7h0M305.2 235.8h0M300.1 221.7h0M337.2 317.7h0M337.2 321.1h0M344.4 308.8h0M344.4 302.4h0M344.4 293.4h0M344.4 285.7h0M337.2 285.7h0M344.4 274.2h0M344.4 266.5h0M353.8 280.6h0M353.8 274.2h0M357.7 271.7h0M364.1 308.3h0M364.1 300.6h0M369.2 286.2h0M374.3 287.8h0M370.5 275.5h0M374.3 275.0h0M382.0 298.0h0M389.7 295.5h0M389.7 292.1h0M395.6 287.8h0M403.2 283.2h0M382.8 264.7h0M388.4 262.7h0M396.1 264.0h0M403.2 261.4h0M403.2 266.5h0M412.7 262.7h0M412.7 258.9h0M425.5 235.0h0M425.5 239.1h0M432.4 230.7h0M432.4 246.8h0M449.8 238.4h0M456.2 243.5h0M456.2 235.8h0M466.5 238.4h0M466.5 248.6h0M473.4 244.8h0M473.4 263.2h0M483.1 231.5h0M483.1 239.7h0M490.8 230.7h0M490.8 223.0h0M503.6 253.7h0M503.6 257.6h0M503.6 261.4h0M475.9 228.1h0M447.3 223.8h0M454.9 223.0h0M534.0 81.0h0M537.9 130.9h0M523.8 134.7h0M517.4 143.7h0M550.7 136.0h0M550.7 143.7h0M563.5 142.4h0M563.5 144.9h0M577.6 146.2h0M577.6 153.9h0M577.6 159.0h0M608.3 124.5h0M608.3 129.6h0M608.3 133.4h0M620.6 130.9h0M620.6 138.5h0M624.9 136.0h0M627.5 142.4h0M627.5 144.9h0M646.7 123.2h0M646.7 148.8h0M660.7 136.8h0M660.7 140.3h0M710.1 106.0h0M710.1 114.2h0M732.4 136.8h0M516.6 223.0h0M522.5 222.3h0M532.8 217.9h0M534.5 235.3h0M524.3 251.2h0M524.3 255.0h0M544.3 258.1h0M544.3 272.9h0M549.4 302.4h0M549.4 306.2h0M549.4 315.2h0M549.4 247.3h0M542.2 243.5h0M558.4 219.2h0M562.2 226.9h0M567.3 221.7h0M566.0 216.6h0M571.2 248.6h0M571.2 276.8h0M571.2 278.6h0M577.0 228.1h0M577.0 232.0h0M587.8 217.9h0M590.4 223.0h0M595.5 219.2h0M594.2 246.1h0M594.2 255.0h0M594.2 258.9h0M602.6 215.3h0M614.7 238.4h0M614.7 240.9h0M612.1 210.2h0M626.2 208.9h0M628.2 216.6h0M628.2 223.0h0M626.2 232.0h0M626.2 234.5h0M633.4 257.1h0M633.4 260.1h0M640.3 257.6h0M640.3 263.2h0M633.4 278.1h0M633.4 281.1h0M640.3 278.1h0M646.7 280.1h0M646.7 219.2h0M646.7 231.5h0M642.8 211.5h0M650.5 210.2h0M658.2 231.5h0M658.2 235.8h0M673.5 217.1h0M673.5 220.5h0M679.4 232.0h0M679.4 258.1h0M679.4 266.5h0M690.2 214.1h0M697.9 206.4h0M697.9 214.1h0M697.9 224.3h0M697.9 229.9h0M710.1 210.2h0M710.1 220.5h0M711.9 228.1h0M716.3 264.0h0M716.3 267.3h0M725.5 228.1h0M725.5 232.0h0M731.6 247.8h0M724.0 205.1h0M735.0 210.2h0M735.0 217.9h0M794.4 60.0h0M794.4 93.8h0M794.4 95.8h0M789.2 103.5h0M782.6 109.1h0M789.2 111.7h0M794.4 114.2h0M779.0 121.9h0M782.6 123.2h0M782.6 128.3h0M779.0 130.9h0M796.2 124.5h0M796.2 130.9h0M782.6 133.4h0M779.0 141.1h0M779.0 143.7h0M789.2 137.3h0M794.4 141.1h0M782.6 150.1h0M779.0 152.6h0M789.2 153.9h0M802.0 146.2h0M812.3 127.0h0M810.2 136.0h0M840.4 95.0h0M840.4 100.2h0M859.4 127.5h0M851.7 134.2h0M884.5 113.0h0M884.5 116.3h0M887.5 121.9h0M879.3 123.2h0M875.5 128.3h0M900.3 113.7h0M900.3 120.6h0M900.3 128.3h0M913.9 138.5h0M912.6 142.4h0M751.4 136.8h0M748.8 142.4h0M748.8 147.5h0M741.1 143.7h0M736.0 142.4h0M770.6 152.6h0M736.0 210.2h0M736.0 217.9h0M742.4 219.2h0M747.5 216.6h0M747.5 207.7h0M759.0 216.6h0M765.4 216.6h0M771.8 215.3h0M771.8 221.7h0M778.2 210.2h0M780.0 217.9h0M774.4 203.3h0M789.8 206.4h0M795.4 205.9h0M793.6 215.3h0M795.4 219.2h0M819.2 194.1h0M740.6 255.0h0M740.6 259.6h0M788.5 260.1h0M788.5 271.9h0M847.3 212.0h0M846.6 228.1h0M846.6 230.7h0M846.6 238.4h0M861.4 251.9h0M861.4 256.3h0M862.7 216.6h0M862.7 224.3h0M852.5 200.7h0M874.2 207.7h0M874.2 212.0h0M883.2 227.4h0M881.4 201.3h0M896.0 216.6h0M898.5 224.3h0M898.5 205.9h0M894.7 197.4h0M912.6 219.2h0M912.6 224.3h0M915.2 214.1h0M910.6 234.5h0M910.6 243.5h0M910.6 249.9h0M910.6 254.5h0M934.4 210.2h0M934.4 216.6h0M934.4 201.8h0M937.7 236.6h0M937.7 243.5h0M937.7 247.3h0M947.9 216.6h0M947.2 245.3h0M947.2 257.1h0M953.6 214.1h0M953.6 225.6h0M960.0 207.7h0M960.0 230.7h0M960.0 237.1h0M959.2 278.1h0M959.2 283.2h0M925.4 201.3h0M994.3 121.9h0M994.3 125.8h0M994.3 132.1h0M994.3 134.7h0M999.4 143.7h0M1003.2 142.4h0M1007.1 142.4h0M1009.1 144.9h0M1040.4 144.4h0M1054.4 142.4h0M1059.5 144.9h0M1080.8 138.5h0M1080.8 143.7h0M1083.9 144.9h0M1087.7 141.1h0M1087.7 150.1h0M1091.5 141.1h0M1096.7 138.5h0M1096.7 142.4h0M1101.3 142.4h0M1104.3 130.9h0M1106.4 130.9h0M1106.4 142.4h0M1106.4 147.5h0M1106.4 156.5h0M1114.1 143.7h0M1115.9 146.2h0M1124.8 146.2h0M1124.8 153.9h0M1122.3 151.3h0M1129.9 138.5h0M1129.9 143.7h0M1136.3 153.9h0M1145.3 137.3h0M1145.3 144.9h0M1150.4 144.9h0M1164.5 136.8h0M1164.5 144.4h0M1170.9 144.9h0M1174.7 146.2h0M1178.6 148.8h0M1183.7 150.1h0M1037.8 153.9h0M1032.2 156.5h0M1016.0 160.3h0M1009.1 159.8h0M1054.4 169.3h0M1064.7 165.4h0M1106.4 162.9h0M1108.2 166.7h0M1114.6 168.0h0M1145.3 162.9h0M1165.8 164.1h0M1173.5 168.0h0M1179.9 162.9h0M961.0 216.6h0M961.0 223.0h0M961.0 230.7h0M961.0 237.1h0M961.0 278.1h0M961.0 283.2h0M978.4 220.5h0M986.6 210.2h0M987.9 214.1h0M994.3 208.9h0M994.3 221.7h0M999.4 216.6h0M1000.7 221.7h0M1004.5 223.0h0M1004.5 229.4h0M1004.5 234.5h0M1009.6 214.1h0M1010.9 221.7h0M1013.5 224.3h0M1010.9 230.7h0M1013.5 235.8h0M994.3 238.4h0M994.3 243.5h0M994.3 246.1h0M1016.0 210.2h0M1022.4 219.2h0M1025.0 214.1h0M1028.8 219.2h0M1028.8 212.8h0M1035.2 221.7h0M1035.2 216.6h0M1038.3 234.5h0M1042.9 216.6h0M1051.1 219.2h0M1017.3 253.7h0M1017.3 256.3h0M1038.3 261.4h0M1038.3 264.0h0M1065.4 251.2h0M1065.4 253.7h0M1061.3 277.5h0M1061.3 298.5h0M1061.3 322.3h0M1065.9 216.6h0M1067.2 220.5h0M1069.8 210.2h0M1071.1 221.7h0M1074.9 223.0h0M1077.5 220.5h0M1081.3 215.3h0M1083.9 216.6h0M1089.5 225.6h0M1089.5 233.3h0M1092.8 216.6h0M1096.7 219.2h0M1099.2 216.6h0M1101.8 219.2h0M1106.4 224.3h0M1106.4 232.0h0M1108.2 216.6h0M1114.6 203.8h0M1117.1 219.2h0M1121.0 223.0h0M1124.8 219.2h0M1128.7 220.5h0M1132.5 216.6h0M1137.6 220.5h0M1140.2 217.9h0M1142.7 228.1h0M1146.6 219.2h0M1150.4 217.9h0M1155.5 219.2h0M1160.7 216.6h0M1165.8 221.7h0M1165.8 214.1h0M1170.9 219.2h0M1176.0 219.2h0M1181.1 221.7h0M1185.0 219.2h0M1085.9 249.4h0M1085.9 262.7h0M1085.9 266.5h0M1089.0 260.1h0M1096.7 246.1h0M1096.7 249.9h0M1096.7 257.6h0M1107.4 262.2h0M1107.4 269.1h0M1107.4 272.9h0M1107.4 275.5h0M1117.7 242.2h0M1117.7 244.8h0M1121.0 252.5h0M1124.8 255.0h0M1126.1 257.1h0M1149.9 240.9h0M1149.9 244.3h0M1149.9 260.1h0M1149.9 262.2h0M1102.3 292.1h0M1102.3 294.7h0M1102.3 300.6h0M1089.5 300.6h0M1089.5 310.0h0M1136.3 203.8h0M1145.3 200.0h0M1150.4 201.3h0M1163.2 208.9h0M1173.5 207.7h0M1181.1 208.9h0M1106.9 206.4h0M1096.7 203.8h0M1068.5 201.3h0M1202.6 132.7h0M1202.6 136.8h0M1202.6 141.1h0M1227.5 129.6h0M1227.5 136.8h0M1227.5 139.8h0M1243.6 129.6h0M1243.6 141.1h0M1244.9 144.4h0M1230.8 142.4h0M1230.8 150.1h0M1253.8 141.1h0M1253.8 143.7h0M1253.8 150.1h0M1253.8 153.9h0M1271.8 134.7h0M1271.8 137.3h0M1273.0 146.2h0M1271.8 156.5h0M1276.9 157.7h0M1288.4 128.3h0M1290.4 134.7h0M1290.4 142.4h0M1284.5 144.9h0M1293.5 143.7h0M1284.5 151.3h0M1301.7 138.5h0M1303.7 146.2h0M1299.9 148.8h0M1294.8 156.5h0M1298.6 161.6h0M1316.5 144.9h0M1318.6 150.1h0M1329.3 141.1h0M1329.3 143.7h0M1320.4 162.9h0M1329.3 162.9h0M1362.1 147.5h0M1368.3 149.6h0M1188.6 144.4h0M1188.6 151.3h0M1193.7 157.7h0M1211.6 143.7h0M1212.9 147.0h0M1221.3 144.9h0M1201.4 152.6h0M1218.0 152.6h0M1238.5 150.1h0M1239.8 153.9h0M1264.1 147.5h0M1265.4 157.7h0M1255.1 162.9h0M1244.9 152.6h0M1358.0 164.9h0M1344.7 168.0h0M1186.0 216.6h0M1188.6 221.7h0M1196.2 216.6h0M1196.2 223.0h0M1196.2 230.7h0M1203.9 217.9h0M1210.3 219.2h0M1211.6 223.0h0M1215.4 229.9h0M1216.7 219.2h0M1220.6 216.6h0M1221.8 221.7h0M1223.1 229.4h0M1225.7 219.2h0M1227.5 234.5h0M1227.5 243.5h0M1227.5 251.2h0M1227.5 254.5h0M1227.5 260.6h0M1229.5 265.3h0M1230.8 268.3h0M1228.2 278.1h0M1232.6 278.1h0M1232.6 288.8h0M1226.4 294.7h0M1227.5 307.5h0M1227.5 331.3h0M1233.4 229.9h0M1233.4 235.8h0M1230.8 221.7h0M1235.9 219.2h0M1239.8 214.1h0M1243.6 219.2h0M1244.4 230.7h0M1247.4 216.6h0M1251.3 224.3h0M1251.3 238.4h0M1255.1 219.2h0M1259.0 221.7h0M1262.8 219.2h0M1266.6 216.6h0M1266.6 239.7h0M1266.6 251.2h0M1265.4 258.9h0M1269.2 260.1h0M1270.5 265.3h0M1268.4 273.4h0M1270.5 221.7h0M1274.3 219.2h0M1276.9 224.3h0M1277.6 243.5h0M1276.9 252.5h0M1276.9 257.6h0M1276.1 262.2h0M1287.1 233.3h0M1288.4 238.4h0M1286.3 244.8h0M1286.3 248.6h0M1293.5 230.7h0M1291.5 217.9h0M1293.0 221.7h0M1299.9 210.2h0M1302.5 216.6h0M1301.2 226.9h0M1303.7 230.7h0M1308.4 221.7h0M1310.1 225.6h0M1311.4 219.2h0M1317.1 232.0h0M1317.1 243.5h0M1317.1 246.1h0M1303.2 257.1h0M1325.5 219.2h0M1326.3 223.0h0M1339.6 224.8h0M1346.0 225.6h0M1349.8 207.7h0M1355.5 233.3h0M1355.5 242.2h0M1355.5 244.8h0M1360.6 221.7h0M1360.6 226.9h0M1369.0 212.8h0M1369.0 239.1h0M1369.0 247.3h0M1369.0 251.2h0M1370.3 260.1h0M1383.6 223.0h0M1216.7 253.7h0M1216.7 258.9h0M1243.6 270.4h0M1243.6 294.7h0M1243.6 298.0h0M1243.6 301.1h0M1315.3 286.2h0M1315.3 294.7h0M1315.3 298.0h0M1191.1 208.9h0M1205.2 208.9h0M1214.2 207.7h0M1250.0 203.8h0M1262.8 210.2h0M1310.1 203.8h0M1319.1 208.9h0M1445.4 143.6h0M1445.4 148.7h0M1445.4 152.6h0M1416.8 234.4h0M1416.8 240.8h0M1436.5 226.7h0M1450.5 278.4h0M1407.0 229.3h0M1423.7 222.9h0M1435.2 220.4h0M1063.6 219.0h0M1069.0 218.8h0M1074.0 221.8h0M1076.9 220.0h0M1084.3 220.6h0M1102.9 220.6h0M1106.9 219.2h0M1109.2 220.7h0M1119.3 218.1h0M1121.8 217.9h0M1126.8 218.5h0M1132.8 217.4h0M1136.2 220.4h0M1141.8 216.2h0M1147.5 219.3h0M1154.7 217.7h0M1164.0 222.7h0M1182.8 220.3h0M1196.9 221.8h0M1205.3 218.7h0M1222.0 219.3h0M1225.7 219.1h0M1229.7 219.6h0M1235.6 218.3h0M1244.8 215.2h0M1258.2 218.1h0M1264.5 220.7h0M1266.4 219.2h0M1271.9 218.0h0M1276.2 218.6h0M1281.3 222.7h0M1286.0 218.5h0M1296.1 220.3h0M1303.1 215.1h0M1308.5 220.3h0M1311.1 219.8h0M1315.2 220.8h0M1321.0 219.5h0M1327.5 218.6h0M1329.9 218.7h0M1333.5 223.5h0M1339.4 213.9h0M1342.4 218.6h0M1351.1 220.9h0M1360.6 219.0h0M1368.4 219.4h0M1379.5 221.4h0M1385.6 222.8h0M1387.9 221.9h0M1013.1 137.0h0M1024.2 144.6h0M1081.4 147.3h0M1088.2 140.4h0M1126.0 140.5h0M1161.7 142.3h0M1199.8 149.7h0M1211.4 145.6h0M1248.1 143.4h0M1305.5 144.4h0M1320.5 147.1h0M1330.5 143.0h0M962.0 137.4h0M962.0 132.5h0M963.0 209.3h0M965.0 213.8h0M967.0 196.0h0M968.0 208.4h0M970.0 214.0h0M971.0 195.2h0M976.0 222.7h0M976.0 227.3h0M977.0 152.9h0M977.0 148.5h0M981.0 199.6h0M983.0 203.1h0M983.0 209.6h0M986.0 146.2h0M986.0 140.6h0M988.0 199.5h0M988.0 203.6h0M989.0 204.5h0M992.0 156.8h0M992.0 148.9h0M993.0 128.4h0M994.0 140.7h0M997.0 149.6h0M997.0 140.9h0M1000.0 215.6h0M1000.0 223.9h0M1001.0 128.2h0M1001.0 123.5h0M1002.0 149.9h0M1002.0 145.1h0M1003.0 157.9h0M1004.0 210.8h0M1004.0 216.6h0M1005.0 142.1h0M1006.0 200.2h0M1007.0 214.5h0M1008.0 204.9h0M1010.0 202.8h0M1010.0 208.5h0M1011.0 140.1h0M1011.0 132.4h0M1012.0 136.3h0M1014.0 146.3h0M1014.0 140.0h0M1015.0 157.1h0M1016.0 124.6h0M1017.0 146.6h0M1018.0 160.2h0M1019.0 148.4h0M1019.0 144.2h0M1020.0 152.7h0M1021.0 219.1h0M1022.0 141.7h0M1023.0 207.5h0M1028.0 207.6h0M1036.0 150.5h0M1036.0 142.4h0M1041.0 153.7h0M1043.0 194.4h0M1044.0 162.2h0M1044.0 154.5h0M1045.0 209.1h0M1045.0 215.5h0M1050.0 168.7h0M1050.0 161.0h0M1051.0 195.5h0M1051.0 202.8h0M1054.0 190.8h0M1055.0 165.5h0M1057.0 197.4h0M1059.0 161.4h0M1059.0 154.5h0M1060.0 233.0h0M1061.0 231.7h0M1062.0 202.8h0M1063.0 150.5h0M1063.0 145.8h0M1064.0 165.1h0M1065.0 202.1h0M1068.0 162.5h0M1068.0 153.5h0M1070.0 169.1h0M1070.0 161.0h0M1071.0 197.7h0M1071.0 203.1h0M1072.0 146.4h0M1077.0 219.6h0M1077.0 227.3h0M1078.0 199.1h0M1078.0 207.7h0M1079.0 201.4h0M1079.0 206.9h0M1082.0 197.4h0M1082.0 202.3h0M1083.0 154.7h0M1084.0 132.2h0M1084.0 127.5h0M1085.0 144.9h0M1085.0 140.4h0M1086.0 144.2h0M1087.0 158.1h0M1088.0 159.8h0M1089.0 203.0h0M1091.0 169.6h0M1091.0 160.9h0M1094.0 155.3h0M1096.0 210.1h0M1100.0 172.2h0M1100.0 165.6h0M1106.0 230.0h0M1106.0 238.6h0M1108.0 160.9h0M1108.0 153.7h0M1110.0 147.5h0M1110.0 142.4h0M1112.0 164.3h0M1116.0 169.1h0M1117.0 134.8h0M1119.0 155.3h0M1119.0 151.2h0M1120.0 143.8h0M1121.0 195.8h0M1121.0 204.7h0M1122.0 213.2h0M1122.0 218.3h0M1124.0 204.1h0M1124.0 210.2h0M1127.0 172.5h0M1127.0 163.6h0M1128.0 159.6h0M1133.0 166.4h0M1135.0 203.7h0M1135.0 208.5h0M1136.0 160.7h0M1136.0 151.9h0M1137.0 197.2h0M1139.0 155.9h0M1140.0 200.1h0M1141.0 155.0h0M1143.0 137.0h0M1143.0 129.3h0M1145.0 152.7h0M1147.0 205.6h0M1147.0 213.4h0M1151.0 154.7h0M1154.0 152.2h0M1155.0 205.7h0M1159.0 153.3h0M1159.0 148.4h0M1161.0 151.2h0M1161.0 144.4h0M1162.0 234.1h0M1162.0 238.5h0M1163.0 231.9h0M1164.0 153.4h0M1168.0 213.5h0M1168.0 220.3h0M1169.0 205.5h0M1169.0 210.2h0M1172.0 157.6h0M1173.0 160.0h0M1174.0 220.3h0M1177.0 159.3h0M1180.0 203.6h0M1180.0 208.9h0M1183.0 205.3h0M1183.0 210.0h0M1184.0 156.8h0M1186.0 153.2h0M1186.0 147.6h0M1187.0 225.5h0M1188.0 149.9h0M1189.0 153.5h0M1190.0 152.6h0M1190.0 145.8h0M1191.0 133.0h0M1193.0 165.1h0M1193.0 156.6h0M1194.0 217.0h0M1194.0 225.4h0M1195.0 149.7h0M1197.0 208.3h0M1197.0 214.8h0M1198.0 135.5h0M1198.0 129.0h0M1201.0 161.4h0M1203.0 152.2h0M1206.0 211.9h0M1206.0 217.9h0M1209.0 147.9h0M1209.0 143.3h0M1210.0 214.9h0M1211.0 203.4h0M1212.0 207.3h0M1214.0 145.9h0M1215.0 150.7h0M1215.0 143.6h0M1216.0 155.3h0M1217.0 229.1h0M1217.0 233.7h0M1218.0 140.4h0M1218.0 133.2h0M1219.0 208.8h0M1220.0 141.3h0M1221.0 203.1h0M1224.0 243.7h0M1225.0 206.3h0M1226.0 152.6h0M1227.0 215.0h0M1227.0 221.5h0M1229.0 142.4h0M1229.0 137.5h0M1230.0 208.1h0M1232.0 223.6h0M1233.0 221.3h0M1236.0 217.3h0M1237.0 217.3h0M1238.0 214.3h0M1239.0 207.9h0M1239.0 215.1h0M1243.0 150.7h0M1244.0 202.9h0M1245.0 158.7h0M1245.0 153.0h0M1246.0 159.0h0M1246.0 152.1h0M1248.0 207.7h0M1249.0 163.3h0M1249.0 156.1h0M1252.0 144.0h0M1253.0 204.1h0M1253.0 212.8h0M1255.0 222.6h0M1255.0 227.8h0M1256.0 209.5h0M1256.0 216.3h0M1258.0 147.3h0M1260.0 149.1h0M1260.0 144.8h0M1264.0 206.5h0M1265.0 142.3h0M1265.0 137.2h0M1266.0 157.9h0M1268.0 229.3h0M1268.0 237.2h0M1269.0 136.2h0M1269.0 127.8h0M1270.0 131.1h0M1270.0 123.3h0M1273.0 208.6h0M1278.0 211.7h0M1280.0 213.0h0M1280.0 220.2h0M1281.0 206.2h0M1281.0 210.3h0M1282.0 204.9h0M1282.0 209.2h0M1287.0 206.4h0M1287.0 214.5h0M1290.0 233.1h0M1290.0 238.1h0M1291.0 154.2h0M1297.0 172.4h0M1297.0 166.2h0M1298.0 163.0h0M1298.0 155.4h0M1305.0 148.7h0M1305.0 141.2h0M1307.0 209.4h0M1307.0 217.5h0M1308.0 164.9h0M1309.0 224.9h0M1311.0 217.4h0M1311.0 226.2h0M1313.0 226.2h0M1314.0 226.7h0M1321.0 219.0h0M1321.0 224.0h0M1327.0 231.7h0M1331.0 209.4h0M1333.0 167.4h0M1333.0 161.0h0M1335.0 152.1h0M1335.0 144.6h0M1337.0 169.5h0M1338.0 156.9h0M1338.0 148.0h0M1340.0 206.2h0M1344.0 202.4h0M1344.0 207.5h0M1346.0 163.8h0M1349.0 216.2h0M1349.0 223.9h0M1355.0 213.1h0M1362.0 153.4h0M1372.0 200.9h0M1374.0 211.1h0M1374.0 219.0h0M1377.0 218.7h0M1383.0 202.9h0M1383.0 210.7h0M1384.0 202.2h0M1384.0 208.2h0M1385.0 162.1h0M1385.0 154.6h0M1388.0 228.8h0M1388.0 236.8h0M1390.0 163.0h0M335.0 259.2h0M335.0 266.5h0M337.0 247.7h0M338.0 261.5h0M338.0 266.5h0M339.0 253.1h0M340.0 281.2h0M340.0 146.8h0M341.0 147.1h0M342.0 249.5h0M343.0 252.2h0M343.0 257.2h0M344.0 254.5h0M345.0 282.7h0M348.0 272.4h0M349.0 285.7h0M350.0 260.6h0M350.0 156.0h0M350.0 150.0h0M351.0 269.5h0M351.0 148.7h0M354.0 303.5h0M354.0 310.0h0M355.0 274.1h0M356.0 314.4h0M357.0 151.4h0M358.0 288.4h0M358.0 294.3h0M360.0 268.1h0M361.0 282.8h0M362.0 268.1h0M364.0 264.0h0M365.0 152.4h0M366.0 158.2h0M366.0 153.5h0M374.0 157.8h0M374.0 150.7h0M376.0 280.7h0M377.0 256.9h0M378.0 259.6h0M378.0 153.0h0M378.0 148.6h0M381.0 245.3h0M383.0 241.9h0M384.0 241.5h0M384.0 248.3h0M384.0 137.3h0M384.0 129.9h0M385.0 242.3h0M387.0 262.9h0M388.0 154.4h0M389.0 279.9h0M389.0 287.8h0M390.0 245.8h0M391.0 251.1h0M393.0 253.5h0M394.0 152.2h0M394.0 145.6h0M396.0 267.1h0M398.0 293.8h0M399.0 258.2h0M401.0 274.0h0M401.0 280.7h0M403.0 246.0h0M403.0 251.7h0M405.0 269.9h0M409.0 247.6h0M410.0 262.0h0M412.0 239.9h0M412.0 246.9h0M413.0 234.6h0M414.0 241.5h0M417.0 225.0h0M419.0 156.1h0M420.0 217.7h0M421.0 227.1h0M421.0 233.2h0M421.0 155.8h0M427.0 209.8h0M427.0 214.5h0M427.0 157.4h0M430.0 219.0h0M430.0 223.5h0M431.0 218.3h0M433.0 210.4h0M434.0 209.0h0M434.0 214.4h0M436.0 229.2h0M437.0 156.3h0M439.0 221.8h0M439.0 154.8h0M439.0 150.3h0M440.0 212.9h0M440.0 217.5h0M441.0 227.2h0M441.0 231.4h0M442.0 246.5h0M443.0 219.2h0M443.0 226.9h0M445.0 235.0h0M446.0 216.6h0M446.0 223.5h0M447.0 241.0h0M447.0 246.6h0M447.0 156.8h0M448.0 217.7h0M449.0 137.0h0M449.0 129.4h0M451.0 222.0h0M451.0 226.8h0M453.0 160.2h0M454.0 235.4h0M454.0 243.3h0M454.0 152.4h0M454.0 147.9h0M455.0 242.1h0M456.0 250.8h0M456.0 257.1h0M456.0 161.1h0M458.0 221.1h0M459.0 223.2h0M461.0 221.8h0M462.0 143.3h0M462.0 135.9h0M464.0 253.2h0M465.0 224.6h0M466.0 227.5h0M466.0 138.3h0M467.0 134.4h0M470.0 127.6h0M471.0 225.8h0M472.0 260.0h0M472.0 264.7h0M472.0 140.9h0M473.0 215.8h0M474.0 225.4h0M475.0 136.2h0M476.0 213.2h0M477.0 212.2h0M477.0 144.1h0M478.0 220.7h0M484.0 212.0h0M487.0 214.5h0M488.0 212.2h0M489.0 140.9h0M490.0 207.1h0M493.0 137.4h0M493.0 130.7h0M494.0 213.2h0M495.0 213.0h0M496.0 209.3h0M496.0 137.9h0M499.0 207.7h0M499.0 212.9h0M500.0 209.7h0M500.0 215.9h0M506.0 208.4h0M507.0 149.2h0M508.0 214.1h0M510.0 150.7h0M511.0 148.6h0M512.0 152.6h0M513.0 151.2h0M513.0 144.5h0M519.0 135.5h0M519.0 128.4h0M524.0 209.6h0M525.0 207.9h0M526.0 219.1h0M528.0 203.5h0M529.0 229.6h0M529.0 237.0h0M532.0 202.6h0M537.0 215.7h0M537.0 223.5h0M538.0 144.4h0M543.0 242.3h0M544.0 278.6h0M545.0 262.5h0M547.0 155.1h0M549.0 249.7h0M551.0 240.9h0M552.0 152.5h0M554.0 222.7h0M557.0 158.6h0M558.0 207.7h0M558.0 213.8h0M560.0 205.6h0M562.0 207.9h0M562.0 215.5h0M563.0 211.0h0M563.0 215.2h0M566.0 204.9h0M567.0 229.6h0M570.0 209.9h0M571.0 227.7h0M572.0 207.2h0M572.0 211.9h0M573.0 214.5h0M573.0 220.6h0M574.0 163.7h0M575.0 209.2h0M575.0 214.3h0M576.0 218.4h0M576.0 223.1h0M577.0 210.2h0M577.0 160.7h0M578.0 161.3h0M579.0 242.4h0M579.0 250.2h0M580.0 214.4h0M580.0 221.2h0M582.0 211.5h0M583.0 158.0h0M584.0 225.3h0M584.0 232.0h0M585.0 214.9h0M585.0 219.6h0M586.0 221.7h0M586.0 228.0h0M588.0 214.5h0M588.0 219.0h0M589.0 216.4h0M591.0 215.0h0M591.0 221.7h0M592.0 217.6h0M593.0 232.4h0M593.0 239.0h0M594.0 238.2h0M595.0 211.1h0M595.0 215.9h0M596.0 153.0h0M597.0 229.5h0M598.0 214.9h0M599.0 227.8h0M600.0 228.6h0M600.0 145.5h0M600.0 138.3h0M601.0 234.0h0M601.0 143.9h0M601.0 137.0h0M603.0 239.1h0M606.0 150.7h0M608.0 222.7h0M608.0 229.5h0M609.0 215.4h0M611.0 210.9h0M612.0 207.3h0M613.0 208.4h0M615.0 228.5h0M615.0 234.7h0M620.0 157.0h0M620.0 152.2h0M621.0 200.8h0M621.0 207.6h0M622.0 201.3h0M623.0 198.2h0M623.0 206.1h0M624.0 211.6h0M625.0 205.4h0M626.0 143.7h0M629.0 200.8h0M629.0 207.9h0M630.0 201.5h0M634.0 218.5h0M634.0 223.9h0M635.0 218.8h0M635.0 223.0h0M639.0 160.0h0M640.0 213.3h0M640.0 219.0h0M641.0 201.2h0M642.0 150.3h0M644.0 213.6h0M645.0 208.2h0M647.0 208.3h0M648.0 202.8h0M648.0 208.6h0M652.0 214.1h0M655.0 204.3h0M655.0 155.4h0M656.0 147.4h0M656.0 141.1h0M659.0 199.2h0M660.0 218.5h0M660.0 222.9h0M661.0 204.1h0M662.0 146.8h0M663.0 202.5h0M663.0 208.2h0M665.0 126.6h0M666.0 216.2h0M666.0 220.9h0M668.0 213.2h0M668.0 218.1h0M669.0 206.6h0M669.0 211.8h0M676.0 147.9h0M678.0 205.8h0M678.0 212.0h0M679.0 223.9h0M680.0 201.5h0M681.0 194.9h0M681.0 202.1h0M684.0 217.6h0M686.0 199.9h0M686.0 205.9h0M687.0 153.4h0M689.0 143.4h0M689.0 135.9h0M690.0 152.2h0M690.0 144.7h0M691.0 153.5h0M691.0 147.6h0M693.0 196.8h0M694.0 203.5h0M694.0 154.0h0M695.0 200.2h0M698.0 205.6h0M701.0 213.1h0M705.0 203.2h0M705.0 150.6h0M705.0 142.7h0M707.0 197.3h0M707.0 201.9h0M707.0 141.8h0M709.0 196.8h0M709.0 202.0h0M713.0 197.6h0M714.0 212.2h0M715.0 203.6h0M716.0 197.1h0M716.0 202.1h0M717.0 202.9h0M717.0 209.3h0M720.0 143.6h0M721.0 151.6h0M727.0 201.0h0M727.0 207.5h0M729.0 201.0h0M729.0 208.7h0M730.0 139.8h0M731.0 144.0h0M731.0 136.9h0M732.0 210.0h0M736.0 207.5h0M739.0 212.2h0M739.0 161.2h0M742.0 219.5h0M742.0 223.6h0M742.0 161.1h0M745.0 211.3h0M746.0 210.8h0M751.0 213.5h0M751.0 220.1h0M752.0 150.6h0M755.0 198.5h0M756.0 208.2h0M758.0 150.4h0M759.0 206.7h0M767.0 209.6h0M768.0 193.1h0M768.0 142.0h0M768.0 135.0h0M769.0 194.0h0M769.0 153.6h0M771.0 153.5h0M772.0 150.5h0M772.0 144.8h0M773.0 193.9h0M774.0 151.7h0M774.0 146.0h0M775.0 204.8h0M775.0 211.7h0M776.0 198.6h0M780.0 198.8h0M780.0 202.9h0M782.0 147.7h0M789.0 107.6h0M789.0 101.2h0M792.0 199.8h0M792.0 207.1h0M793.0 133.1h0M793.0 126.6h0M795.0 133.0h0M808.0 211.7h0M810.0 189.1h0M813.0 191.2h0M814.0 189.2h0M814.0 193.6h0M816.0 140.7h0M819.0 137.5h0M819.0 131.4h0M820.0 187.4h0M820.0 192.9h0M820.0 143.0h0M821.0 181.2h0M823.0 138.3h0M824.0 181.6h0M825.0 140.2h0M825.0 133.3h0M826.0 181.8h0M829.0 209.6h0M831.0 190.7h0M831.0 196.8h0M833.0 186.4h0M839.0 121.2h0M841.0 191.1h0M841.0 198.4h0M841.0 126.6h0M842.0 122.4h0M843.0 124.9h0M846.0 196.1h0M846.0 110.4h0M846.0 105.4h0M850.0 199.2h0M852.0 199.1h0M857.0 210.2h0M859.0 228.1h0M859.0 235.0h0M862.0 133.7h0M863.0 233.9h0M863.0 240.3h0M867.0 203.5h0M867.0 125.4h0M867.0 121.0h0M868.0 214.2h0M871.0 197.9h0M871.0 128.6h0M871.0 123.6h0M873.0 124.0h0M873.0 116.7h0M874.0 209.0h0M875.0 198.7h0M876.0 133.4h0M878.0 211.3h0M878.0 219.0h0M880.0 199.9h0M881.0 133.6h0M883.0 197.7h0M883.0 205.3h0M884.0 219.3h0M884.0 225.7h0M886.0 138.4h0M887.0 207.2h0M887.0 214.4h0M888.0 202.0h0M888.0 208.2h0M890.0 200.6h0M890.0 207.2h0M890.0 139.2h0M890.0 133.7h0M892.0 219.7h0M892.0 227.1h0M893.0 143.8h0M894.0 200.3h0M894.0 140.6h0M894.0 134.5h0M896.0 198.8h0M896.0 203.3h0M898.0 127.2h0M901.0 142.5h0M901.0 137.0h0M903.0 139.2h0M903.0 132.8h0M905.0 198.0h0M906.0 204.4h0M909.0 221.8h0M910.0 199.4h0M911.0 201.4h0M911.0 206.2h0M917.0 210.2h0M918.0 212.5h0M918.0 217.1h0M920.0 216.5h0M925.0 228.5h0M926.0 230.0h0M928.0 203.1h0M928.0 209.0h0M933.0 145.1h0M936.0 199.2h0M936.0 203.7h0M939.0 196.1h0M940.0 192.7h0M940.0 199.5h0M942.0 201.9h0M942.0 209.2h0M943.0 220.1h0M943.0 224.9h0M949.0 149.4h0M951.0 196.3h0M951.0 202.6h0M954.0 144.2h0M118.0 162.7h0M122.0 178.3h0M126.0 259.0h0M140.0 151.5h0M159.0 329.0h0M162.0 323.6h0M175.0 151.4h0M188.0 166.9h0M191.0 261.6h0M193.0 155.0h0M194.0 155.1h0M196.0 230.4h0M197.0 139.8h0M198.0 218.4h0M203.0 126.7h0M204.0 199.9h0M205.0 200.1h0M211.0 126.5h0M224.0 91.0h0M225.0 179.0h0M229.0 91.5h0M232.0 197.6h0M237.0 230.0h0M239.0 246.2h0M244.0 237.8h0M245.0 157.1h0M247.0 252.6h0M248.0 243.9h0M257.0 268.1h0M257.0 176.1h0M263.0 235.4h0M267.0 202.8h0M268.0 110.7h0M273.0 78.1h0M274.0 213.9h0M277.0 217.1h0M278.0 80.1h0M282.0 210.8h0M284.0 225.8h0M284.0 104.3h0M288.0 240.8h0M289.0 105.9h0M291.0 215.0h0M294.0 125.7h0M295.0 210.5h0M301.0 124.5h0M307.0 127.0h0M313.0 201.1h0M325.0 188.4h0M327.0 269.5h0M1061.6 300.0h0M1061.6 322.4h0M1061.6 348.5h0M1061.6 436.2h0M1061.6 438.7h0M1089.3 301.0h0M1089.3 310.2h0M1102.4 301.0h0M1227.4 307.5h0M1227.4 331.2h0M1227.4 351.4h0M1226.4 373.4h0M1227.4 436.2h0M1227.4 476.4h0M1227.4 496.4h0M1243.3 301.6h0M1227.5 61.8h0M1212.9 70.7h0M1212.9 75.8h0M1300.7 64.3h0M1300.7 66.9h0M1227.5 84.8h0M1227.5 98.9h0M1227.5 102.7h0M1253.8 101.4h0M1285.8 107.8h0M1262.8 119.4h0M1287.1 120.6h0" stroke="#1f77b4" stroke-width="5.4" stroke-linecap="round" fill="none"/>
<path d="M116.5 216.7 121.1 234.6 125.0 206.4 127.5 209.0 130.8 193.6 133.9 205.1 137.2 185.9 141.6 203.9 144.2 206.4 146.2 201.3 148.8 232.0 150.6 188.5 152.6 184.6 154.4 193.6 157.0 270.4 158.2 284.5 160.0 280.7 162.1 284.5 164.1 252.5 165.2 280.7 167.2 234.6 169.8 193.6 171.0 185.9 172.8 191.0 174.4 177.0 176.2 183.4 177.4 178.2 180.0 198.7 181.3 180.8 183.1 219.2 184.6 232.0 185.6 224.3 187.7 244.8 190.2 229.5 192.8 211.5 196.6 191.0 199.2 180.8 201.8 165.4 204.3 170.6 206.1 157.8 209.4 151.4 211.2 164.2 213.3 155.2 215.3 165.4 218.4 142.4 221.0 145.0 223.0 124.5 225.6 116.8 227.4 128.3 229.9 142.4 232.5 160.3 235.0 173.1 238.4 188.5 240.2 198.7 242.7 189.8 244.0 196.2 246.6 192.3 249.1 194.9 251.7 193.6 253.7 196.2 255.5 219.2 258.1 216.7 259.9 207.7 261.9 209.0 264.5 191.0 267.0 165.4 269.6 142.4 271.7 127.0 272.9 125.8 274.7 147.5 276.0 150.1 277.8 145.0 279.9 150.1 282.4 160.3 283.7 178.2 286.0 180.8 286.0 183.3 288.6 168.0 291.1 162.9 293.2 165.4 295.7 148.8 297.5 150.1 300.1 165.4 302.6 169.3 304.4 164.1 306.5 168.0 309.0 155.2 311.1 165.4 313.6 147.5 315.2 150.1 316.7 178.2 318.8 175.7 320.6 198.7 323.1 224.3 325.7 221.7 328.2 244.8 330.0 252.5 331.6 219.2 332.6 185.9 335.1 184.6 337.2 187.2 339.2 182.1 341.0 193.6 342.8 183.3 344.4 196.1 346.2 184.6 348.7 183.3 351.3 187.2 353.8 202.5 356.4 191.0 359.0 193.6 360.7 182.1 362.8 193.6 365.9 178.2 368.4 191.0 370.5 197.4 373.0 189.7 376.1 179.5 377.6 183.3 380.2 175.7 382.8 182.1 385.8 183.3 388.4 188.5 390.9 182.1 394.0 179.5 396.1 193.6 398.6 180.8 400.7 179.5 403.2 194.9 405.8 180.8 408.4 187.2 410.9 191.0 414.0 176.9 417.1 182.1 420.4 179.5 424.2 182.1 428.1 178.2 430.6 179.5 434.5 179.5 437.5 180.8 440.9 178.2 443.4 179.5 445.2 175.7 447.8 183.3 451.1 184.6 454.9 188.5 458.0 185.9 461.3 187.2 465.2 183.3 468.3 187.2 470.8 171.8 473.4 182.1 475.9 187.2 478.5 179.5 481.0 174.4 483.6 180.8 488.2 174.4 490.8 178.2 493.8 173.1 496.4 170.5 499.7 178.2 503.6 180.8 507.4 178.2 511.0 178.2 511.0 178.2 514.8 180.8 517.4 176.9 520.0 188.5 523.3 178.2 525.8 179.5 528.4 170.5 531.0 178.2 534.0 171.8 536.6 169.3 539.2 178.2 542.2 194.9 544.8 187.2 546.8 183.3 549.4 202.5 552.0 183.3 554.5 176.9 557.1 179.5 560.1 183.3 563.5 175.7 566.0 179.5 569.9 184.6 573.7 185.9 577.0 187.2 580.1 183.3 583.2 176.9 585.7 188.5 589.1 182.1 592.4 179.5 595.5 182.1 599.3 169.3 601.9 180.8 604.4 176.9 607.8 180.8 610.8 178.2 613.4 176.9 617.2 176.9 620.6 173.1 623.6 176.9 627.5 179.5 630.0 178.2 632.6 184.6 635.9 179.5 639.0 182.1 642.1 179.5 645.4 180.8 648.7 174.4 651.3 180.8 654.3 175.7 657.4 182.1 660.7 165.4 662.5 173.1 665.9 176.9 668.4 183.3 671.0 178.2 673.5 184.6 676.9 175.7 679.4 180.8 682.0 173.1 684.5 171.8 687.6 179.5 690.2 182.1 693.3 170.5 695.8 182.1 699.1 175.7 702.5 170.5 705.5 171.8 708.6 178.2 711.9 183.3 714.5 179.5 717.1 183.3 720.4 174.4 723.5 174.4 726.0 184.6 729.1 165.4 731.6 175.7 736.0 180.8 736.0 179.5 739.8 178.2 742.4 180.8 745.0 179.5 748.3 173.1 751.4 178.2 755.2 191.0 758.5 178.2 761.6 178.2 764.7 175.7 768.0 174.4 771.3 173.1 774.4 179.5 777.0 174.4 780.0 179.5 782.1 173.1 785.9 182.1 788.5 175.7 791.0 180.8 794.4 171.8 797.4 178.2 800.5 176.9 803.8 179.5 807.2 174.4 810.2 178.2 812.8 171.8 815.4 160.3 818.4 151.3 821.8 152.6 824.3 155.2 826.9 153.9 829.4 159.0 831.2 151.3 833.3 156.5 836.3 147.5 838.9 157.7 841.5 155.2 844.0 168.0 846.1 162.9 848.6 169.3 850.7 162.9 853.7 180.8 856.3 168.0 858.4 160.3 860.9 178.2 863.5 174.4 866.5 162.9 868.6 159.0 871.2 170.5 874.2 156.5 877.3 151.3 880.6 170.5 882.4 162.9 885.7 170.5 889.1 165.4 891.6 174.4 893.4 162.9 895.2 176.9 897.8 159.0 901.1 174.4 903.7 171.8 905.5 179.5 908.0 171.8 910.1 180.8 912.6 170.5 914.7 166.7 917.2 180.8 920.3 175.7 924.1 168.0 927.5 175.7 930.0 168.0 933.1 175.7 935.7 171.8 938.7 173.1 941.3 168.0 943.8 178.2 947.2 170.5 949.7 166.7 953.1 173.1 956.1 170.5 959.2 182.1 961.0 178.2 961.0 175.7 963.0 173.1 964.8 179.5 968.7 178.2 972.5 180.8 975.8 178.2 979.4 182.1 982.8 178.2 986.6 182.1 990.4 179.5 994.3 182.1 998.9 179.5 1003.2 184.6 1006.6 179.5 1010.9 182.1 1015.3 179.5 1019.4 183.3 1023.7 180.3 1028.1 182.1 1030.6 178.2 1035.2 183.3 1039.1 179.5 1042.9 182.1 1048.0 180.3 1051.9 183.3 1056.2 182.1 1058.8 178.2 1061.3 193.6 1063.4 179.5 1066.5 183.3 1071.1 182.1 1076.2 183.3 1080.8 178.2 1085.1 184.6 1089.0 182.1 1092.8 183.3 1097.9 182.1 1101.3 185.9 1103.8 179.5 1106.9 185.9 1110.7 180.8 1114.6 179.5 1118.4 182.1 1121.7 184.6 1126.1 182.1 1129.9 183.3 1135.1 180.8 1140.2 183.3 1145.3 179.5 1149.1 184.6 1153.0 180.8 1158.1 182.1 1163.2 180.3 1168.3 183.3 1173.5 180.8 1179.9 184.6 1186.0 180.3 1186.0 182.1 1189.8 183.3 1193.7 180.8 1197.5 183.3 1200.8 180.3 1203.9 185.9 1207.8 182.1 1211.6 176.9 1214.2 183.3 1216.7 187.2 1220.6 179.5 1223.9 183.3 1225.7 179.5 1227.5 196.1 1229.5 182.1 1233.4 183.3 1237.2 180.8 1241.0 184.6 1244.9 182.1 1249.5 184.6 1253.1 178.2 1256.4 184.6 1260.2 182.1 1264.1 185.9 1267.9 183.3 1270.5 179.5 1274.3 183.3 1276.9 191.0 1279.4 182.1 1283.3 184.6 1287.1 180.8 1290.9 184.6 1294.8 180.8 1297.3 185.9 1299.9 176.9 1302.5 184.6 1306.3 183.3 1310.1 184.6 1314.0 187.2 1317.8 183.3 1321.7 184.6 1325.5 188.5 1328.1 182.1 1331.9 185.9 1337.0 183.3 1342.1 185.9 1347.3 184.6 1352.4 185.9 1357.5 184.6 1360.1 188.5 1362.6 183.3 1366.5 185.9 1369.8 191.0 1372.9 184.6 1378.0 185.9 1381.8 183.3 1385.7 179.5 1387.9 185.8 1391.7 197.3 1393.7 187.1 1396.3 194.8 1398.9 196.1 1401.9 190.9 1404.5 193.5 1407.0 203.7 1409.6 208.8 1412.2 185.8 1414.7 184.5 1417.3 187.1 1420.4 182.0 1423.7 183.3 1426.2 187.1 1429.6 183.3 1432.6 184.5 1435.7 185.8 1439.0 184.5 1440.8 203.7 1442.9 207.6 1444.9 196.1 1446.7 203.7 1448.5 193.5 1450.5 229.3 1452.6 237.0 1454.4 249.8 1456.9 237.0 1459.5 235.7 1462.0 238.3" stroke="#ff7f0e" stroke-width="2.3" stroke-linejoin="round" fill="none"/>
</g>
<rect x="124" y="575.5" width="589.7" height="479.0" fill="#e9e9e9"/>
<path d="M124.5 575.5V1054.5M713.2 575.5V1054.5" stroke="#dcdcdc" stroke-width="1" fill="none"/>
<path d="M284.50 575.5V1054.5M452.50 575.5V1054.5M620.50 575.5V1054.5M789.50 575.5V1054.5M957.50 575.5V1054.5M1125.50 575.5V1054.5M1294.50 575.5V1054.5M116.5 627.50H1462.5M116.5 685.50H1462.5M116.5 742.50H1462.5M116.5 800.50H1462.5M116.5 858.50H1462.5M116.5 916.50H1462.5M116.5 973.50H1462.5M116.5 1031.50H1462.5" stroke="#b0b0b0" stroke-width="1" stroke-dasharray="1.11 1.83" fill="none"/>
<g clip-path="url(#cb)">
<path d="M117.0 960.0V1020.1M118.2 967.1V1023.3M119.5 978.7V1019.6M120.8 966.5V1021.0M122.0 966.2V1021.6M123.2 967.0V1018.8M124.5 969.3V1018.7M125.8 977.8V1017.9M127.0 973.4V1019.1M128.2 968.7V1021.2M129.5 978.7V1019.7M130.8 979.1V1020.2M132.0 997.4V1019.0M133.2 980.1V1018.3M134.5 977.1V1020.0M135.8 989.9V1018.5M137.0 977.8V1020.7M138.2 980.3V1020.5M139.5 964.9V1020.9M140.8 980.9V1021.3M142.0 980.8V1023.2M143.2 977.2V1021.2M144.5 990.4V1023.2M145.8 976.0V1019.6M147.0 974.1V1019.2M148.2 975.8V1024.4M149.5 969.9V1022.1M150.8 978.0V1022.7M152.0 988.0V1024.5M153.2 977.4V1023.0M154.5 976.8V1025.3M155.8 976.2V1024.0M157.0 975.3V1023.8M158.2 974.6V1021.6M159.5 973.5V1021.2M160.8 954.6V1019.7M162.0 956.6V1017.3M163.2 976.2V1018.4M164.5 973.9V1020.3M165.8 964.8V1020.1M167.0 965.3V1022.3M168.2 967.5V1022.0M169.5 974.0V1026.5M170.8 991.4V1023.1M172.0 975.0V1022.8M173.2 987.2V1020.0M174.5 971.9V1023.3M175.8 987.5V1023.2M177.0 976.0V1023.1M178.2 1013.9V1021.7M179.5 993.9V1021.0M180.8 1001.2V1024.5M182.0 1003.6V1022.8M183.2 992.4V1019.6M184.5 960.0V1014.5M185.8 943.9V1017.8M187.0 927.6V1009.9M188.2 910.4V1008.2M189.5 892.5V1005.3M190.8 875.9V999.2M192.0 860.8V1001.6M193.2 847.2V1000.3M194.5 827.3V995.9M195.8 805.8V989.3M197.0 795.7V983.6M198.2 791.5V982.0M199.5 786.7V978.4M200.8 784.2V976.2M202.0 783.1V974.6M203.2 783.5V973.4M204.5 786.7V973.0M205.8 802.5V980.3M207.0 827.3V986.3M208.2 847.5V995.0M209.5 863.2V1001.8M210.8 879.0V1008.2M212.0 892.0V1010.6M213.2 901.8V1011.1M214.5 901.9V1012.9M215.8 901.0V1016.4M217.0 907.3V1009.8M218.2 906.9V1013.7M219.5 903.2V1009.0M220.8 899.8V999.2M222.0 896.4V992.3M223.2 892.1V990.0M224.5 886.4V991.1M225.8 891.6V995.9M227.0 897.8V998.5M228.2 901.5V1004.0M229.5 905.5V1004.9M230.8 910.7V1005.3M232.0 917.7V1005.5M233.2 920.3V1009.1M234.5 929.7V1005.0M235.8 933.8V1011.3M237.0 937.3V1013.0M238.2 944.8V1018.0M239.5 961.2V1016.2M240.8 956.8V1019.7M242.0 963.1V1021.7M243.2 965.5V1021.4M244.5 967.0V1021.2M245.8 972.7V1026.2M247.0 977.7V1022.6M248.2 973.9V1022.8M249.5 974.2V1021.3M250.8 961.5V1024.9M252.0 971.8V1020.9M253.2 960.9V1023.1M254.5 959.2V1020.4M255.8 953.7V1018.3M257.0 948.9V1013.3M258.2 945.0V1013.8M259.5 934.4V1011.9M260.8 936.4V1015.3M262.0 934.1V1012.4M263.2 932.8V1011.2M264.5 922.5V1010.1M265.8 911.2V1010.2M267.0 907.8V1008.6M268.2 913.4V1010.1M269.5 918.7V1009.4M270.8 922.8V1008.6M272.0 927.4V1011.0M273.2 932.3V1007.6M274.5 938.0V1007.0M275.8 941.6V1007.9M277.0 941.7V1010.3M278.2 934.6V1007.2M279.5 926.0V1008.9M280.8 914.9V1007.9M282.0 899.9V1004.2M283.2 899.1V1008.0M284.5 897.6V1009.1M285.8 897.2V1014.1M287.0 898.8V1011.7M288.2 892.0V1011.4M289.5 888.5V1009.1M290.8 888.5V1010.8M292.0 897.6V1011.2M293.2 906.8V1011.3M294.5 915.0V1010.9M295.8 924.4V1011.8M297.0 927.2V1015.4M298.2 930.8V1013.8M299.5 940.5V1015.1M300.8 949.6V1016.0M302.0 957.1V1016.8M303.2 960.6V1019.3M304.5 989.0V1019.6M305.8 976.4V1018.9M307.0 982.6V1020.8M308.2 978.6V1018.8M309.5 973.1V1018.8M310.8 958.7V1017.3M312.0 957.4V1015.0M313.2 959.9V1016.9M314.5 958.8V1017.3M315.8 965.6V1017.7M317.0 959.0V1017.7M318.2 953.3V1018.8M319.5 934.4V1018.3M320.8 906.2V1018.9M322.0 882.3V1015.8M323.2 862.0V1012.8M324.5 848.5V1010.0M325.8 838.8V1006.9M327.0 841.2V1006.7M328.2 846.9V1005.7M329.5 854.7V1009.9M330.8 867.0V1017.1M332.0 885.4V1026.7M333.2 1013.8V1028.2M334.5 1013.3V1028.7M335.8 1013.5V1027.6M337.0 1011.1V1028.5M338.2 1017.4V1028.6M339.5 1018.2V1028.3M340.8 1014.0V1028.1M342.0 1019.7V1028.3M343.2 1018.5V1028.4M344.5 1018.2V1028.9M345.8 1016.6V1028.6M347.0 1016.9V1029.0M348.2 1013.4V1029.9M349.5 1014.1V1028.1M350.8 1013.5V1030.0M352.0 1021.4V1029.2M353.2 1011.9V1028.7M354.5 1013.8V1029.0M355.8 1014.2V1028.6M357.0 1005.7V1028.5M358.2 1012.6V1028.9M359.5 1012.3V1029.1M360.8 1008.0V1029.1M362.0 1003.8V1029.1M363.2 1012.9V1028.2M364.5 1011.0V1028.8M365.8 1013.3V1029.2M367.0 1006.9V1028.4M368.2 1009.6V1029.4M369.5 1002.6V1029.2M370.8 1003.9V1028.7M372.0 1004.3V1028.7M373.2 1006.2V1028.7M374.5 992.8V1029.3M375.8 991.2V1028.7M377.0 991.7V1028.2M378.2 997.5V1028.3M379.5 981.5V1029.1M380.8 981.8V1029.2M382.0 994.7V1028.7M383.2 989.4V1029.3M384.5 992.2V1029.1M385.8 1002.4V1029.1M387.0 1004.0V1029.4M388.2 1012.5V1029.2M389.5 1010.7V1028.7M390.8 1001.8V1029.6M392.0 988.2V1030.7M393.2 989.3V1029.2M394.5 1008.9V1028.9M395.8 1004.8V1029.3M397.0 1008.4V1028.9M398.2 1009.7V1028.6M399.5 1010.1V1030.5M400.8 1002.2V1029.2M402.0 1014.2V1028.9M403.2 1003.5V1029.3M404.5 1010.1V1028.4M405.8 1006.0V1028.6M407.0 1003.8V1029.4M408.2 1016.4V1028.9M409.5 1004.6V1030.8M410.8 1011.7V1029.3M412.0 1010.9V1029.1M413.2 1011.6V1029.2M414.5 1006.6V1029.3M415.8 1013.2V1028.8M417.0 1013.8V1028.5M418.2 1005.1V1028.9M419.5 1007.2V1028.4M420.8 1013.6V1028.5M422.0 1015.2V1028.5M423.2 1004.9V1028.8M424.5 1011.9V1028.5M425.8 1013.2V1029.1M427.0 1000.6V1030.7M428.2 998.4V1028.8M429.5 1007.8V1028.8M430.8 1010.4V1028.7M432.0 1004.1V1028.4M433.2 995.2V1028.9M434.5 996.0V1027.9M435.8 1002.3V1029.4M437.0 1001.7V1029.1M438.2 1002.5V1028.0M439.5 986.7V1029.0M440.8 993.1V1028.5M442.0 988.2V1029.1M443.2 989.3V1029.0M444.5 995.9V1028.3M445.8 987.8V1028.6M447.0 1000.9V1028.7M448.2 996.8V1028.8M449.5 996.1V1028.8M450.8 995.3V1028.3M452.0 1006.2V1028.7M453.2 998.7V1028.9M454.5 1002.7V1027.8M455.8 1004.0V1028.3M457.0 1002.9V1027.8M458.2 995.3V1028.7M459.5 1004.7V1028.6M460.8 1007.7V1028.3M462.0 999.8V1028.3M463.2 997.4V1028.7M464.5 1008.6V1030.2M465.8 998.2V1029.2M467.0 1014.4V1028.5M468.2 1012.8V1028.2M469.5 999.7V1028.8M470.8 998.3V1027.6M472.0 999.8V1028.7M473.2 1006.3V1029.2M474.5 1003.2V1029.0M475.8 1002.3V1029.6M477.0 1007.6V1029.0M478.2 1001.2V1029.0M479.5 1002.2V1028.9M480.8 1008.0V1029.2M482.0 999.9V1028.5M483.2 1007.1V1029.2M484.5 1001.3V1029.6M485.8 1010.5V1028.4M487.0 1014.0V1030.2M488.2 999.2V1030.0M489.5 1002.1V1029.5M490.8 1011.6V1028.6M492.0 1007.5V1029.8M493.2 1003.7V1029.7M494.5 1010.3V1029.6M495.8 1009.7V1029.4M497.0 1016.1V1029.4M498.2 1006.0V1029.4M499.5 1007.7V1029.5M500.8 1015.8V1031.1M502.0 1007.4V1029.8M503.2 1016.6V1030.1M504.5 1007.2V1029.7M505.8 1001.8V1029.7M507.0 1010.5V1030.3M508.2 1014.5V1029.5M509.5 1004.0V1028.8M510.8 1016.0V1029.9M512.0 1015.6V1030.3M513.2 1015.7V1030.2M514.5 1019.9V1030.1M515.8 1021.6V1029.8M517.0 1019.6V1030.4M518.2 1019.6V1029.9M519.5 1022.7V1030.4M520.8 1018.5V1030.1M522.0 1019.0V1030.3M523.2 1020.1V1030.3M524.5 1022.8V1030.1M525.8 1017.9V1029.9M527.0 1019.4V1030.1M528.2 1013.5V1030.2M529.5 1016.1V1029.8M530.8 1013.2V1030.0M532.0 1011.8V1029.8M533.2 1021.0V1029.7M534.5 1021.0V1029.9M535.8 1012.5V1029.8M537.0 1012.0V1030.0M538.2 1021.7V1030.4M539.5 1019.5V1029.8M540.8 1018.4V1030.0M542.0 1017.8V1029.9M543.2 1018.3V1030.1M544.5 1015.0V1030.1M545.8 1008.4V1030.1M547.0 1013.4V1029.8M548.2 1009.1V1029.5M549.5 1015.6V1029.8M550.8 1016.5V1029.3M552.0 1009.4V1029.2M553.2 1013.7V1029.8M554.5 1010.0V1029.7M555.8 1008.9V1029.3M557.0 1003.6V1029.6M558.2 1007.9V1030.2M559.5 1001.5V1029.7M560.8 1012.5V1029.1M562.0 999.8V1029.6M563.2 1005.9V1030.1M564.5 1002.4V1029.6M565.8 1009.1V1031.1M567.0 1005.2V1029.7M568.2 1007.9V1029.6M569.5 1001.8V1028.8M570.8 1002.9V1029.2M572.0 1003.2V1029.8M573.2 1001.9V1029.5M574.5 1008.6V1028.9M575.8 1002.5V1028.8M577.0 998.9V1029.1M578.2 1001.5V1028.3M579.5 991.7V1028.9M580.8 1000.0V1029.5M582.0 1001.4V1028.5M583.2 1003.8V1028.8M584.5 1000.7V1029.3M585.8 1007.5V1029.1M587.0 1004.2V1028.2M588.2 1006.2V1028.7M589.5 999.5V1029.3M590.8 1013.2V1029.1M592.0 1000.6V1029.4M593.2 1010.0V1030.8M594.5 997.5V1029.6M595.8 995.9V1028.9M597.0 982.8V1028.7M598.2 997.1V1028.0M599.5 1002.4V1028.6M600.8 1008.2V1028.8M602.0 1005.6V1028.7M603.2 999.2V1029.1M604.5 1010.5V1029.1M605.8 1014.2V1029.2M607.0 998.0V1029.2M608.2 1003.9V1028.2M609.5 1004.3V1028.5M610.8 1001.6V1028.6M612.0 1011.5V1028.3M613.2 1006.0V1027.1M614.5 1006.8V1028.7M615.8 1005.4V1028.5M617.0 1012.3V1030.0M618.2 1009.7V1028.7M619.5 1013.8V1028.9M620.8 1010.0V1028.6M622.0 1000.0V1030.3M623.2 1001.9V1028.8M624.5 1005.3V1028.9M625.8 1000.8V1028.9M627.0 1000.6V1027.8M628.2 1004.5V1029.0M629.5 998.5V1029.5M630.8 1014.1V1027.4M632.0 1008.1V1028.7M633.2 1009.1V1029.1M634.5 1016.1V1028.1M635.8 1008.9V1028.7M637.0 1004.7V1029.3M638.2 1009.3V1028.7M639.5 1008.5V1029.0M640.8 1001.3V1027.5M642.0 1011.0V1028.4M643.2 1004.5V1029.1M644.5 1009.0V1028.9M645.8 1003.6V1029.1M647.0 1009.2V1028.7M648.2 1001.2V1028.4M649.5 1002.6V1028.1M650.8 998.0V1028.7M652.0 1009.4V1028.8M653.2 1001.3V1027.7M654.5 1010.7V1029.2M655.8 1017.2V1029.7M657.0 1012.1V1028.6M658.2 1009.7V1029.1M659.5 1003.0V1028.6M660.8 1008.0V1028.2M662.0 991.0V1028.2M663.2 1001.7V1028.6M664.5 995.8V1028.9M665.8 996.3V1027.5M667.0 992.4V1029.1M668.2 1002.4V1028.3M669.5 993.7V1027.9M670.8 988.8V1029.8M672.0 1002.9V1029.2M673.2 1001.2V1028.9M674.5 998.6V1028.0M675.8 1015.5V1029.3M677.0 1017.8V1028.8M678.2 1001.5V1028.8M679.5 1005.3V1029.6M680.8 1002.8V1028.8M682.0 994.6V1029.3M683.2 991.5V1028.8M684.5 1006.6V1028.8M685.8 1003.6V1031.0M687.0 996.0V1029.3M688.2 1009.9V1029.2M689.5 1008.2V1029.4M690.8 1007.9V1028.6M692.0 1011.6V1029.5M693.2 1007.2V1029.3M694.5 1003.2V1029.2M695.8 999.4V1029.2M697.0 1000.0V1028.3M698.2 994.7V1028.8M699.5 1006.3V1029.1M700.8 993.3V1029.3M702.0 1002.3V1029.2M703.2 1007.0V1029.4M704.5 991.8V1028.2M705.8 998.4V1029.4M707.0 999.5V1029.2M708.2 1006.6V1028.6M709.5 1006.4V1029.1M710.8 997.9V1028.8M712.0 1008.7V1029.5M713.2 1009.6V1030.3M714.5 1007.3V1029.6M715.8 993.8V1028.8M717.0 994.1V1029.2M718.2 1007.4V1029.0M719.5 992.7V1029.5M720.8 979.0V1029.6M722.0 994.8V1029.5M723.2 996.6V1028.6M724.5 985.3V1028.7M725.8 981.4V1029.3M727.0 987.7V1028.8M728.2 989.4V1028.6M729.5 986.4V1029.2M730.8 984.6V1029.5M732.0 991.6V1030.0M733.2 1003.4V1027.7M734.5 1013.1V1030.6M735.8 1009.0V1029.6M737.0 1014.5V1028.5M738.2 1006.2V1029.1M739.5 1013.2V1029.5M740.8 1013.0V1029.3M742.0 1011.8V1029.1M743.2 1009.3V1028.7M744.5 1011.8V1029.6M745.8 1004.1V1029.4M747.0 1004.7V1028.7M748.2 1007.7V1029.3M749.5 994.0V1030.2M750.8 992.7V1030.7M752.0 996.5V1028.4M753.2 998.7V1028.8M754.5 982.7V1028.3M755.8 990.2V1029.1M757.0 997.0V1029.5M758.2 1006.3V1028.0M759.5 1010.4V1029.3M760.8 1006.9V1029.7M762.0 1007.7V1029.5M763.2 1011.8V1030.3M764.5 1014.2V1031.1M765.8 1007.0V1029.3M767.0 1011.8V1029.2M768.2 1006.5V1029.4M769.5 1008.4V1028.5M770.8 1006.8V1029.2M772.0 1004.4V1029.5M773.2 1009.1V1029.5M774.5 1006.9V1029.0M775.8 1005.2V1029.1M777.0 1014.1V1030.9M778.2 1005.8V1030.5M779.5 1004.9V1028.9M780.8 1011.6V1029.3M782.0 1002.0V1028.8M783.2 1014.4V1028.9M784.5 1004.7V1028.9M785.8 1006.9V1029.5M787.0 1008.9V1028.4M788.2 1005.7V1029.0M789.5 1000.2V1028.5M790.8 998.7V1029.1M792.0 997.2V1028.1M793.2 994.7V1028.6M794.5 1008.2V1028.3M795.8 1001.3V1028.4M797.0 1006.4V1028.6M798.2 1012.8V1028.1M799.5 1010.6V1027.1M800.8 1014.6V1028.3M802.0 999.7V1027.2M803.2 994.4V1027.4M804.5 990.1V1028.0M805.8 984.3V1027.7M807.0 990.9V1027.6M808.2 992.6V1026.2M809.5 999.2V1027.4M810.8 1004.3V1027.1M812.0 992.2V1027.2M813.2 994.0V1027.0M814.5 1002.8V1026.5M815.8 977.2V1026.8M817.0 977.2V1025.6M818.2 965.1V1023.1M819.5 953.1V1020.9M820.8 939.0V1020.0M822.0 914.5V1017.7M823.2 889.2V1014.9M824.5 869.5V1009.3M825.8 866.4V1005.9M827.0 863.8V1002.4M828.2 864.3V1006.0M829.5 865.9V1009.6M830.8 875.4V1013.5M832.0 895.2V1018.0M833.2 919.6V1018.6M834.5 937.9V1019.4M835.8 957.6V1020.1M837.0 960.9V1020.7M838.2 963.7V1021.1M839.5 972.0V1022.3M840.8 960.1V1024.0M842.0 973.2V1022.7M843.2 977.0V1026.0M844.5 977.4V1025.1M845.8 985.2V1025.9M847.0 994.5V1026.6M848.2 993.7V1027.4M849.5 1001.4V1027.3M850.8 998.0V1027.7M852.0 995.1V1027.3M853.2 998.7V1026.9M854.5 990.9V1027.9M855.8 1003.5V1027.6M857.0 993.8V1027.7M858.2 999.1V1027.8M859.5 1007.9V1028.0M860.8 998.7V1027.9M862.0 1006.6V1026.9M863.2 997.3V1028.0M864.5 1004.0V1028.2M865.8 1009.4V1028.5M867.0 999.1V1028.1M868.2 1007.1V1028.6M869.5 1004.7V1030.5M870.8 1005.4V1028.0M872.0 1015.1V1028.9M873.2 1016.7V1028.8M874.5 1009.2V1028.1M875.8 1013.6V1028.7M877.0 1018.7V1029.1M878.2 1016.0V1029.1M879.5 1015.1V1029.5M880.8 1011.5V1029.6M882.0 1014.0V1029.6M883.2 1013.1V1028.9M884.5 1013.4V1029.5M885.8 1002.6V1028.5M887.0 1007.7V1029.6M888.2 1004.3V1029.4M889.5 1016.5V1028.9M890.8 1006.0V1029.5M892.0 999.5V1029.0M893.2 1005.9V1028.9M894.5 1002.5V1028.2M895.8 1002.1V1029.5M897.0 1005.0V1030.0M898.2 993.9V1028.9M899.5 1006.0V1028.8M900.8 1007.6V1027.4M902.0 997.0V1027.9M903.2 988.3V1029.2M904.5 1005.5V1027.8M905.8 993.4V1028.7M907.0 987.7V1029.0M908.2 1000.4V1029.1M909.5 986.1V1028.7M910.8 995.1V1028.9M912.0 1003.1V1028.9M913.2 982.7V1028.3M914.5 988.8V1029.1M915.8 983.2V1028.5M917.0 986.3V1027.6M918.2 980.9V1029.5M919.5 989.2V1029.0M920.8 980.3V1025.0M922.0 988.7V1025.6M923.2 991.6V1024.9M924.5 994.1V1025.3M925.8 991.5V1023.4M927.0 992.1V1025.8M928.2 980.0V1026.1M929.5 987.1V1026.0M930.8 997.9V1025.5M932.0 989.4V1026.4M933.2 1002.6V1026.1M934.5 993.9V1026.5M935.8 994.2V1027.9M937.0 996.6V1026.2M938.2 1000.2V1027.2M939.5 1006.1V1027.0M940.8 1000.8V1026.8M942.0 1001.6V1027.0M943.2 1000.7V1027.4M944.5 1002.0V1027.7M945.8 992.9V1027.5M947.0 1006.5V1027.6M948.2 995.5V1028.1M949.5 1000.1V1027.4M950.8 998.1V1028.5M952.0 1013.4V1028.3M953.2 1016.3V1028.3M954.5 1006.3V1028.6M955.8 1005.8V1029.0M957.0 1008.5V1029.1M958.2 1014.3V1029.2M959.5 1015.5V1029.3M960.8 1011.2V1029.0M962.0 1009.6V1029.0M963.2 1010.9V1028.9M964.5 1007.3V1029.6M965.8 1006.4V1029.1M967.0 1011.5V1029.0M968.2 996.4V1028.7M969.5 1005.5V1029.7M970.8 990.6V1028.9M972.0 982.3V1029.1M973.2 980.4V1028.5M974.5 1001.1V1028.6M975.8 992.9V1029.0M977.0 998.2V1029.9M978.2 1005.3V1029.5M979.5 1005.3V1028.6M980.8 1006.7V1029.0M982.0 1006.5V1029.0M983.2 1008.2V1029.2M984.5 1017.0V1028.7M985.8 1006.1V1029.7M987.0 1015.9V1029.4M988.2 1015.8V1029.6M989.5 1003.7V1028.8M990.8 1011.5V1029.0M992.0 1005.9V1029.5M993.2 1005.3V1029.2M994.5 1006.8V1029.7M995.8 1016.3V1028.9M997.0 1006.8V1029.1M998.2 1009.2V1029.0M999.5 1012.3V1029.4M1000.8 1017.5V1029.6M1002.0 1012.5V1029.7M1003.2 1009.7V1028.6M1004.5 1011.0V1029.3M1005.8 1013.9V1029.8M1007.0 1015.3V1029.7M1008.2 1005.1V1029.0M1009.5 1013.5V1029.2M1010.8 1015.5V1029.2M1012.0 1006.9V1029.5M1013.2 1017.5V1029.3M1014.5 1018.6V1029.6M1015.8 1016.0V1029.6M1017.0 1022.9V1029.3M1018.2 1022.1V1029.6M1019.5 1016.6V1029.7M1020.8 1024.4V1029.4M1022.0 1021.3V1029.8M1023.2 1016.2V1029.8M1024.5 1021.8V1029.4M1025.8 1021.3V1029.8M1027.0 1015.8V1031.0M1028.2 1022.0V1028.9M1029.5 1017.9V1028.7M1030.8 1017.2V1029.1M1032.0 1015.9V1029.3M1033.2 1018.7V1029.6M1034.5 1013.8V1029.5M1035.8 1018.4V1030.8M1037.0 1021.3V1029.7M1038.2 1014.2V1029.8M1039.5 1014.5V1029.5M1040.8 1019.7V1029.5M1042.0 1015.3V1029.0M1043.2 1019.2V1028.5M1044.5 1012.3V1029.9M1045.8 1014.3V1027.5M1047.0 1017.9V1026.4M1048.2 1013.6V1025.5M1049.5 1013.3V1023.4M1050.8 1015.5V1023.5M1052.0 1011.4V1023.9M1053.2 1013.2V1023.1M1054.5 1004.5V1024.5M1055.8 1005.7V1023.9M1057.0 999.7V1025.5M1058.2 1003.2V1027.2M1059.5 1015.2V1028.3M1060.8 1010.9V1029.3M1062.0 1016.8V1029.7M1063.2 1017.1V1029.4M1064.5 1017.0V1029.3M1065.8 1017.6V1029.7M1067.0 1024.8V1029.3M1068.2 1021.7V1030.1M1069.5 1019.8V1030.0M1070.8 1022.1V1029.7M1072.0 1021.2V1029.6M1073.2 1018.3V1030.0M1074.5 1019.6V1029.6M1075.8 1010.7V1029.9M1077.0 1018.4V1029.9M1078.2 1017.4V1029.8M1079.5 1012.8V1030.1M1080.8 1010.7V1030.1M1082.0 1008.1V1030.2M1083.2 1011.0V1030.0M1084.5 1019.6V1030.0M1085.8 1010.6V1029.4M1087.0 1012.8V1029.5M1088.2 1019.7V1030.4M1089.5 1017.8V1030.5M1090.8 1020.9V1030.5M1092.0 1015.3V1030.4M1093.2 1022.9V1030.5M1094.5 1019.2V1030.3M1095.8 1019.2V1029.9M1097.0 1021.1V1030.7M1098.2 1022.5V1030.5M1099.5 1025.8V1031.8M1100.8 1023.3V1030.3M1102.0 1023.8V1030.5M1103.2 1022.3V1030.8M1104.5 1025.1V1030.8M1105.8 1021.6V1031.7M1107.0 1021.1V1030.9M1108.2 1021.1V1030.6M1109.5 1019.7V1030.7M1110.8 1021.4V1031.6M1112.0 1021.3V1030.5M1113.2 1024.0V1030.6M1114.5 1023.7V1030.4M1115.8 1022.7V1029.8M1117.0 1024.9V1030.8M1118.2 1020.7V1030.4M1119.5 1023.5V1030.6M1120.8 1024.0V1030.4M1122.0 1023.0V1030.6M1123.2 1024.1V1031.8M1124.5 1018.5V1030.4M1125.8 1020.8V1030.6M1127.0 1021.4V1031.3M1128.2 1022.7V1030.5M1129.5 1018.6V1030.7M1130.8 1012.7V1032.0M1132.0 1014.7V1030.9M1133.2 1022.3V1030.6M1134.5 1017.8V1030.0M1135.8 1017.2V1030.6M1137.0 1022.0V1030.7M1138.2 1013.6V1030.1M1139.5 1012.0V1029.7M1140.8 1013.1V1029.7M1142.0 1016.7V1030.4M1143.2 1020.7V1030.3M1144.5 1018.5V1030.1M1145.8 1018.4V1030.4M1147.0 1023.6V1030.4M1148.2 1022.5V1030.7M1149.5 1019.3V1030.5M1150.8 1017.6V1030.6M1152.0 1021.9V1030.6M1153.2 1023.8V1030.7M1154.5 1015.6V1030.3M1155.8 1019.0V1030.3M1157.0 1019.5V1030.5M1158.2 1012.6V1030.2M1159.5 1018.9V1030.3M1160.8 1021.5V1029.7M1162.0 1016.4V1029.9M1163.2 1019.9V1030.6M1164.5 1018.5V1030.5M1165.8 1018.5V1030.2M1167.0 1020.3V1030.2M1168.2 1015.2V1029.7M1169.5 1016.4V1030.5M1170.8 1009.6V1030.0M1172.0 1021.1V1030.5M1173.2 1022.8V1030.2M1174.5 1020.7V1030.4M1175.8 1016.6V1030.6M1177.0 1021.0V1030.2M1178.2 1022.0V1030.1M1179.5 1025.0V1030.2M1180.8 1023.0V1030.5M1182.0 1014.7V1029.7M1183.2 1016.1V1030.9M1184.5 1021.3V1030.4M1185.8 1019.5V1029.9M1187.0 1020.1V1029.9M1188.2 1013.8V1030.3M1189.5 1024.0V1030.2M1190.8 1019.2V1030.4M1192.0 1017.0V1029.8M1193.2 1015.4V1030.5M1194.5 1021.6V1030.5M1195.8 1024.1V1030.7M1197.0 1022.0V1030.1M1198.2 1018.7V1030.2M1199.5 1023.3V1031.0M1200.8 1018.5V1028.7M1202.0 1019.4V1028.8M1203.2 1017.0V1029.2M1204.5 1020.8V1028.1M1205.8 1020.6V1029.0M1207.0 1020.5V1029.3M1208.2 1012.7V1028.6M1209.5 1016.1V1028.9M1210.8 1021.6V1029.1M1212.0 1018.5V1029.3M1213.2 1022.2V1029.6M1214.5 1025.5V1029.7M1215.8 1024.4V1029.4M1217.0 1024.5V1031.0M1218.2 1022.2V1029.9M1219.5 1020.7V1030.1M1220.8 1025.3V1029.6M1222.0 1019.1V1030.7M1223.2 1019.4V1030.0M1224.5 1023.3V1029.7M1225.8 1017.8V1029.9M1227.0 1015.9V1029.9M1228.2 1022.9V1030.3M1229.5 1018.9V1029.9M1230.8 1022.1V1029.6M1232.0 1022.8V1030.3M1233.2 1023.7V1031.1M1234.5 1022.2V1029.7M1235.8 1022.7V1029.6M1237.0 1023.6V1029.3M1238.2 1018.8V1029.7M1239.5 1024.7V1029.8M1240.8 1026.8V1029.7M1242.0 1022.7V1029.6M1243.2 1015.7V1029.1M1244.5 1014.5V1028.4M1245.8 1021.5V1029.1M1247.0 1016.8V1030.0M1248.2 1021.2V1029.2M1249.5 1017.3V1029.3M1250.8 1019.4V1028.5M1252.0 1018.7V1029.6M1253.2 1019.3V1029.4M1254.5 1018.9V1029.7M1255.8 1018.1V1029.2M1257.0 1021.4V1029.8M1258.2 1021.3V1029.7M1259.5 1020.7V1029.0M1260.8 1018.5V1029.3M1262.0 1017.2V1029.4M1263.2 1016.3V1028.5M1264.5 1014.0V1029.9M1265.8 1013.0V1029.1M1267.0 1017.9V1029.2M1268.2 1016.6V1029.7M1269.5 1019.4V1029.7M1270.8 1013.8V1029.4M1272.0 1018.2V1029.4M1273.2 1018.4V1029.8M1274.5 1016.5V1029.3M1275.8 1019.2V1029.6M1277.0 1021.4V1029.8M1278.2 1022.1V1029.7M1279.5 1022.9V1029.7M1280.8 1018.8V1029.3M1282.0 1015.8V1029.8M1283.2 1017.4V1029.8M1284.5 1014.8V1029.7M1285.8 1018.1V1029.9M1287.0 1018.7V1029.3M1288.2 1018.1V1029.3M1289.5 1010.2V1029.5M1290.8 1020.6V1030.8M1292.0 1011.0V1029.6M1293.2 1015.8V1029.8M1294.5 1013.6V1029.7M1295.8 1009.5V1029.6M1297.0 1007.9V1030.3M1298.2 1013.0V1029.0M1299.5 1011.4V1029.5M1300.8 1017.7V1029.3M1302.0 1015.4V1029.1M1303.2 1003.7V1029.5M1304.5 1014.3V1030.2M1305.8 1004.4V1029.6M1307.0 1010.7V1029.4M1308.2 1014.2V1028.1M1309.5 1016.8V1028.9M1310.8 1011.7V1029.3M1312.0 1010.2V1029.1M1313.2 1014.7V1029.2M1314.5 1021.2V1029.1M1315.8 1017.8V1029.2M1317.0 1018.4V1029.8M1318.2 1017.2V1029.6M1319.5 1018.7V1028.9M1320.8 1018.5V1028.6M1322.0 1024.6V1028.8M1323.2 1018.8V1029.1M1324.5 1016.6V1028.8M1325.8 999.8V1030.3M1327.0 1003.1V1029.3M1328.2 1006.4V1029.3M1329.5 1011.4V1029.0M1330.8 1013.1V1028.8M1332.0 1004.6V1029.1M1333.2 1012.1V1028.1M1334.5 1008.2V1029.1M1335.8 1012.1V1029.7M1337.0 1008.4V1028.5M1338.2 1013.6V1027.7M1339.5 1008.4V1028.4M1340.8 1004.2V1028.4M1342.0 1006.1V1030.8M1343.2 1002.2V1027.4M1344.5 998.3V1028.6M1345.8 1011.1V1029.1M1347.0 1006.0V1028.9M1348.2 1004.8V1029.0M1349.5 1016.8V1027.4M1350.8 1006.0V1028.8M1352.0 1014.3V1028.3M1353.2 1006.8V1029.0M1354.5 1018.1V1029.0M1355.8 1010.6V1029.0M1357.0 1020.3V1028.3M1358.2 1012.3V1028.6M1359.5 1017.6V1028.2M1360.8 1013.7V1028.2M1362.0 1010.5V1028.7M1363.2 1003.9V1030.1M1364.5 1004.9V1028.5M1365.8 1011.8V1028.9M1367.0 1010.7V1028.6M1368.2 1009.1V1028.7M1369.5 1014.0V1028.1M1370.8 1008.6V1028.4M1372.0 1008.0V1027.6M1373.2 1003.1V1027.8M1374.5 999.6V1026.6M1375.8 994.6V1027.4M1377.0 996.5V1027.6M1378.2 990.2V1027.2M1379.5 1000.7V1026.6M1380.8 1003.7V1027.1M1382.0 996.0V1027.1M1383.2 987.8V1026.1M1384.5 989.5V1026.0M1385.8 979.7V1026.1M1387.0 974.4V1026.4M1388.2 982.9V1026.3M1389.5 965.1V1026.3M1390.8 969.1V1025.9M1392.0 966.1V1025.9M1393.2 963.8V1026.0M1394.5 965.3V1026.2M1395.8 966.9V1026.1M1397.0 977.8V1026.1M1398.2 972.0V1025.8M1399.5 981.9V1025.8M1400.8 985.5V1024.7M1402.0 984.5V1024.8M1403.2 977.8V1024.5M1404.5 987.5V1023.1M1405.8 994.2V1021.8M1407.0 991.0V1021.3M1408.2 962.6V1020.9M1409.5 969.5V1022.2M1410.8 978.6V1025.3M1412.0 981.9V1025.7M1413.2 984.5V1028.0M1414.5 977.7V1027.0M1415.8 988.4V1027.9M1417.0 992.7V1027.6M1418.2 986.2V1027.8M1419.5 984.6V1027.9M1420.8 991.4V1028.4M1422.0 984.8V1028.7M1423.2 995.4V1027.8M1424.5 998.8V1028.1M1425.8 1005.9V1027.7M1427.0 996.1V1027.1M1428.2 991.8V1027.8M1429.5 1007.6V1027.8M1430.8 994.7V1027.5M1432.0 981.0V1025.9M1433.2 988.6V1026.4M1434.5 994.7V1026.7M1435.8 995.3V1026.9M1437.0 988.6V1026.5M1438.2 979.1V1026.1M1439.5 989.6V1026.4M1440.8 986.1V1026.3M1442.0 986.7V1026.6M1443.2 979.2V1026.3M1444.5 989.9V1025.4M1445.8 983.7V1024.8M1447.0 991.3V1025.7M1448.2 983.4V1025.6M1449.5 978.9V1025.2M1450.8 994.4V1025.0M1452.0 966.6V1023.7M1453.2 945.1V1019.2M1454.5 939.5V1015.6M1455.8 919.3V1015.7M1457.0 907.7V1014.8M1458.2 902.9V1014.7M1459.5 898.0V1017.1M1460.8 895.1V1015.8M826.6 786.0V862.0M828.2 792.0V862.0M827.4 784.0V800.0" stroke="#1f77b4" stroke-width="5.4" stroke-linecap="round" fill="none"/>
<path d="M757.0 980.7h0M1069.5 1007.2h0M1085.8 1005.2h0M1179.5 1011.5h0M1274.5 1007.4h0M149.4 914.8h0M149.4 925.7h0M166.2 912.5h0M166.2 919.4h0M122.5 936.7h0M149.4 950.1h0M193.2 1010.0h0M216.3 829.6h0M216.3 834.2h0M216.3 841.1h0M216.3 848.0h0M216.3 854.9h0M216.3 863.0h0M216.3 867.6h0M224.3 822.6h0M224.3 829.6h0M231.2 866.4h0M231.2 879.6h0M244.6 931.0h0M259.4 887.2h0M259.4 901.0h0M266.3 836.5h0M266.3 848.0h0M271.6 867.6h0M271.6 871.7h0M282.4 822.6h0M282.4 829.6h0M282.4 836.5h0M282.4 846.8h0M290.5 782.3h0M290.5 804.2h0M290.5 810.0h0M290.5 816.9h0M290.5 829.6h0M290.5 836.5h0M297.6 873.3h0M260.7 1018.5h0M217.4 1016.2h0M729.5 964.9h0M841.3 943.2h0M903.5 986.3h0M924.5 971.4h0M200.5 597.3h0M200.5 606.3h0M200.5 626.9h0M200.5 629.2h0M200.5 649.8h0M200.5 655.1h0M200.5 664.5h0M200.5 675.8h0M200.5 678.0h0M200.5 686.5h0M200.5 692.7h0M200.5 697.3h0M207.4 694.0h0M207.4 700.0h0M190.2 785.0h0M290.6 711.4h0M290.6 717.4h0M290.6 730.6h0M290.6 743.4h0M290.6 765.5h0M290.6 782.4h0M330.6 703.4h0M330.6 708.6h0M330.6 713.3h0M325.4 720.8h0M322.5 724.6h0M827.4 713.1h0M827.4 716.5h0M827.4 719.4h0M827.4 724.3h0M827.4 735.1h0M827.4 741.4h0M827.4 744.9h0M827.4 753.1h0M827.4 757.6h0M827.4 760.6h0M827.4 764.5h0M827.4 777.3h0M1393.4 869.8h0M1393.4 875.4h0M1393.4 878.7h0M1393.4 884.9h0M1393.4 887.6h0M1393.4 898.7h0M1393.4 902.0h0M1393.4 906.4h0M1393.4 914.2h0M1393.4 917.5h0M1393.4 922.0h0M1393.4 925.3h0M1393.4 931.9h0M1393.4 936.0h0M1393.4 941.0h0M1393.4 945.0h0M1410.2 945.2h0M1410.2 949.2h0M1410.2 954.1h0M1410.2 959.0h0M1460.0 803.7h0M1460.0 809.5h0M1460.0 819.9h0M1460.0 836.6h0M1460.0 841.0h0M118.2 947.1h0M118.3 953.1h0M120.4 949.9h0M120.7 956.7h0M120.7 958.2h0M120.7 960.3h0M120.6 962.9h0M121.8 939.7h0M122.1 949.4h0M122.2 952.8h0M122.3 958.3h0M122.0 961.1h0M122.1 962.6h0M122.0 966.0h0M123.6 945.0h0M123.2 951.6h0M122.9 955.0h0M124.7 953.9h0M124.6 958.7h0M124.6 968.0h0M129.3 965.6h0M129.3 969.6h0M129.7 973.4h0M129.9 977.6h0M130.4 962.5h0M134.4 960.8h0M134.7 963.3h0M134.5 967.8h0M136.9 966.2h0M137.2 968.9h0M136.8 972.9h0M137.0 976.5h0M137.9 961.7h0M138.2 969.4h0M138.1 971.4h0M138.3 978.0h0M140.7 967.3h0M141.0 977.6h0M141.7 971.6h0M145.9 954.4h0M148.1 958.4h0M150.7 967.2h0M150.7 970.7h0M153.3 958.8h0M153.5 963.9h0M153.4 973.5h0M153.3 977.0h0M154.3 960.6h0M154.5 966.7h0M155.6 963.8h0M155.4 967.2h0M155.7 976.2h0M157.3 952.0h0M157.4 958.7h0M156.7 967.6h0M156.9 970.1h0M158.6 957.0h0M165.7 950.0h0M165.8 954.9h0M165.9 959.5h0M166.9 930.2h0M167.2 935.3h0M167.0 937.4h0M167.3 940.9h0M167.0 943.9h0M167.4 950.4h0M167.0 956.2h0M168.1 936.3h0M168.2 940.4h0M168.4 944.0h0M168.4 957.8h0M169.9 949.5h0M169.1 969.1h0M175.8 973.3h0M176.0 981.4h0M175.5 983.6h0M185.6 912.3h0M185.4 916.0h0M185.9 922.7h0M186.1 926.2h0M186.1 938.2h0M187.0 893.5h0M186.8 900.1h0M186.7 917.5h0M187.0 919.1h0M186.7 926.4h0M188.0 877.4h0M188.2 881.9h0M188.2 889.3h0M188.6 892.9h0M187.9 897.8h0M188.5 900.2h0M188.1 907.4h0M189.4 854.4h0M189.1 864.2h0M189.7 868.3h0M189.7 888.7h0M189.3 890.6h0M189.9 892.4h0M190.7 840.9h0M190.5 851.7h0M190.4 856.9h0M190.6 859.7h0M190.7 864.0h0M190.4 869.4h0M191.0 873.5h0M191.8 815.9h0M192.3 841.0h0M192.1 843.7h0M191.9 846.9h0M192.1 850.0h0M191.7 854.6h0M192.2 857.1h0M192.1 859.5h0M192.9 802.9h0M193.6 806.1h0M193.6 810.5h0M193.6 818.2h0M193.2 823.1h0M193.6 828.3h0M193.3 830.8h0M194.8 750.4h0M194.7 756.4h0M194.7 759.1h0M194.3 777.1h0M194.6 792.0h0M194.9 804.9h0M194.2 807.0h0M195.4 734.2h0M195.5 751.1h0M195.4 767.0h0M195.4 774.2h0M195.4 776.0h0M195.5 781.3h0M195.6 786.1h0M195.6 788.2h0M195.4 791.6h0M196.0 795.2h0M197.4 691.9h0M196.9 732.9h0M197.2 742.0h0M197.0 745.7h0M197.2 748.4h0M197.1 750.7h0M197.3 753.4h0M196.6 760.4h0M197.4 762.9h0M197.3 771.8h0M196.9 777.5h0M196.8 779.2h0M196.8 784.9h0M196.8 790.3h0M196.7 793.7h0M197.9 688.5h0M198.6 711.6h0M197.9 734.5h0M198.5 737.8h0M198.0 742.7h0M198.5 744.6h0M197.9 750.9h0M198.0 755.0h0M198.6 760.5h0M198.0 764.3h0M198.6 766.5h0M198.3 780.3h0M197.9 784.2h0M198.2 786.9h0M199.8 700.6h0M199.7 719.0h0M199.4 735.1h0M199.7 738.5h0M199.8 763.4h0M199.4 766.4h0M199.4 771.2h0M199.6 773.4h0M199.1 777.9h0M199.1 780.7h0M199.9 782.8h0M199.9 785.8h0M200.4 702.0h0M200.6 712.2h0M201.0 730.1h0M200.4 733.4h0M200.7 737.3h0M200.8 751.9h0M201.1 774.1h0M200.4 775.9h0M200.8 779.6h0M201.9 710.6h0M201.6 728.9h0M202.4 753.9h0M202.1 764.8h0M202.4 767.6h0M201.9 770.9h0M202.0 774.1h0M201.9 776.7h0M202.4 782.4h0M203.3 718.8h0M203.6 767.0h0M203.5 771.0h0M203.5 775.8h0M202.9 778.5h0M203.5 780.1h0M203.2 782.4h0M204.7 683.5h0M204.7 691.6h0M204.7 710.1h0M204.4 716.9h0M204.6 741.4h0M204.1 752.6h0M204.5 761.9h0M204.7 769.0h0M204.6 772.1h0M204.8 775.6h0M204.3 780.3h0M205.4 729.0h0M205.9 740.6h0M206.0 744.9h0M205.9 753.1h0M205.7 755.9h0M205.7 759.4h0M205.9 769.8h0M206.1 771.8h0M205.7 774.7h0M205.7 782.6h0M205.9 788.1h0M205.9 793.3h0M205.6 795.3h0M205.4 801.8h0M207.1 770.1h0M206.9 778.6h0M206.9 784.0h0M207.3 785.6h0M206.7 788.8h0M206.6 796.2h0M207.3 806.6h0M207.2 808.2h0M206.7 821.7h0M206.7 823.3h0M207.3 825.8h0M208.2 783.8h0M208.3 791.2h0M208.1 795.9h0M208.6 802.3h0M207.9 810.6h0M208.4 828.5h0M208.2 830.1h0M208.6 843.5h0M208.3 846.2h0M209.6 824.8h0M209.5 829.7h0M209.9 839.0h0M209.7 858.0h0M209.5 859.6h0M209.8 861.8h0M210.4 835.7h0M210.8 845.6h0M211.0 853.4h0M211.1 859.0h0M210.8 862.9h0M210.4 876.6h0M212.1 842.0h0M212.0 888.5h0M212.2 892.0h0M213.0 873.9h0M213.5 886.6h0M214.3 852.1h0M214.7 896.4h0M214.2 900.4h0M215.6 860.8h0M215.6 875.2h0M216.0 881.9h0M215.5 889.2h0M215.4 895.9h0M217.2 866.2h0M217.0 870.8h0M217.0 873.0h0M217.0 879.3h0M216.8 883.6h0M216.8 890.3h0M217.2 900.6h0M216.9 902.4h0M218.6 879.9h0M218.5 885.5h0M218.4 894.6h0M218.2 905.1h0M219.6 859.5h0M219.6 861.5h0M219.5 875.1h0M219.5 883.0h0M219.2 885.0h0M219.8 890.6h0M219.3 898.8h0M219.8 902.1h0M220.6 859.2h0M220.8 871.9h0M220.6 888.3h0M221.7 850.8h0M221.7 852.9h0M222.0 863.3h0M222.3 888.5h0M221.9 890.2h0M222.4 892.9h0M223.4 860.6h0M224.3 861.0h0M224.9 871.0h0M224.4 876.7h0M224.4 879.2h0M224.2 880.8h0M225.8 840.4h0M226.1 856.6h0M225.4 872.6h0M225.6 875.1h0M225.8 882.9h0M225.7 884.7h0M225.8 887.1h0M225.5 891.5h0M226.8 858.9h0M226.7 866.9h0M227.0 869.7h0M227.0 879.5h0M227.2 882.3h0M226.8 894.9h0M226.8 896.5h0M228.1 866.4h0M227.9 876.3h0M228.6 878.7h0M228.5 881.5h0M228.4 894.1h0M228.5 899.0h0M229.7 888.2h0M230.6 869.4h0M230.6 879.3h0M230.4 896.4h0M230.4 899.7h0M231.0 901.3h0M230.4 908.2h0M232.3 873.4h0M232.1 885.0h0M232.0 891.7h0M232.3 897.1h0M234.4 899.7h0M234.7 906.0h0M234.7 909.3h0M234.4 912.5h0M234.6 914.4h0M234.5 923.5h0M234.9 926.2h0M235.6 924.8h0M235.5 928.0h0M236.0 930.3h0M237.1 900.1h0M236.6 914.0h0M237.2 923.4h0M237.3 927.0h0M237.0 936.3h0M238.4 927.3h0M238.2 936.7h0M242.2 951.6h0M243.0 954.7h0M245.8 958.0h0M245.8 966.7h0M247.4 962.5h0M247.0 968.5h0M246.7 971.2h0M247.1 977.7h0M251.7 960.3h0M251.9 964.4h0M254.9 938.6h0M254.7 956.1h0M254.5 959.0h0M255.8 932.4h0M255.7 935.6h0M255.7 945.9h0M257.2 917.6h0M256.7 929.3h0M256.7 938.9h0M256.9 943.0h0M257.1 947.0h0M258.5 933.1h0M258.4 937.8h0M260.6 917.0h0M262.3 914.5h0M262.0 920.6h0M261.7 928.1h0M262.2 933.2h0M263.3 920.5h0M263.4 932.4h0M264.3 897.1h0M264.4 905.5h0M264.2 914.1h0M266.1 874.5h0M265.5 884.7h0M265.5 890.5h0M265.6 894.0h0M266.0 899.9h0M267.2 872.3h0M267.3 880.0h0M267.1 894.5h0M266.7 896.6h0M266.9 898.4h0M267.4 906.3h0M268.0 864.9h0M268.5 888.8h0M267.9 890.6h0M267.9 900.2h0M268.1 901.9h0M268.0 905.0h0M268.5 910.5h0M269.4 886.5h0M269.7 902.2h0M269.3 905.8h0M269.7 911.1h0M269.8 913.8h0M271.1 905.5h0M270.6 911.2h0M271.0 915.9h0M272.3 878.4h0M271.8 884.2h0M272.0 899.1h0M272.0 903.9h0M272.3 907.5h0M272.1 922.0h0M273.1 895.2h0M273.2 898.1h0M273.4 901.5h0M273.0 905.8h0M273.4 920.9h0M273.2 927.8h0M274.4 924.6h0M274.9 931.6h0M274.2 937.7h0M275.6 919.9h0M275.5 929.9h0M275.4 936.5h0M275.7 939.1h0M276.6 911.5h0M276.9 924.7h0M277.3 934.1h0M277.1 936.7h0M277.1 939.6h0M278.0 912.4h0M278.2 917.7h0M278.5 919.8h0M278.3 924.5h0M278.6 932.3h0M278.4 934.1h0M279.3 889.4h0M279.7 895.8h0M279.3 908.9h0M279.8 911.6h0M279.6 916.2h0M279.8 917.9h0M279.2 920.0h0M279.1 922.8h0M279.4 925.5h0M281.1 862.7h0M280.4 896.3h0M280.8 899.4h0M280.6 902.9h0M280.8 904.4h0M280.4 911.1h0M280.7 914.0h0M281.9 834.7h0M281.7 845.3h0M281.7 856.2h0M282.0 860.8h0M281.6 863.5h0M281.9 876.0h0M281.8 879.2h0M283.3 850.4h0M283.1 861.3h0M282.9 867.7h0M283.6 878.5h0M283.5 880.6h0M283.6 882.7h0M283.6 886.9h0M283.6 889.8h0M283.6 895.5h0M284.3 843.4h0M284.1 846.5h0M284.3 857.8h0M284.6 860.5h0M284.5 862.2h0M284.9 864.7h0M284.6 867.0h0M284.8 873.8h0M284.2 875.8h0M284.7 879.3h0M284.2 886.5h0M284.9 889.4h0M284.3 892.7h0M284.7 895.7h0M285.8 850.2h0M285.9 854.9h0M285.5 863.7h0M285.7 868.9h0M285.5 876.2h0M286.1 897.2h0M286.6 858.3h0M286.7 874.7h0M287.3 885.7h0M287.3 890.8h0M287.3 894.4h0M288.4 822.5h0M287.9 827.3h0M288.3 836.1h0M288.4 857.0h0M288.4 866.8h0M288.5 876.4h0M288.6 879.5h0M288.2 881.1h0M289.8 827.7h0M289.2 836.6h0M289.4 840.7h0M289.6 850.4h0M289.5 853.1h0M289.3 872.0h0M289.4 880.1h0M289.7 882.8h0M289.5 885.3h0M290.9 817.7h0M290.4 820.3h0M290.8 827.4h0M290.9 833.3h0M291.1 862.0h0M291.0 863.8h0M290.9 866.6h0M290.8 883.7h0M291.9 840.4h0M291.8 843.5h0M291.9 848.2h0M292.3 851.3h0M292.0 853.1h0M292.2 859.2h0M292.0 865.1h0M292.3 876.2h0M292.1 883.1h0M292.0 890.4h0M291.8 892.3h0M292.3 896.8h0M293.4 866.5h0M293.0 885.9h0M293.2 902.4h0M293.3 906.2h0M294.7 870.4h0M294.4 876.6h0M294.5 882.3h0M294.4 904.9h0M294.8 907.0h0M294.4 910.9h0M296.1 900.4h0M295.6 912.7h0M296.0 919.5h0M295.8 921.2h0M297.0 876.4h0M297.3 888.9h0M297.2 896.5h0M297.2 899.0h0M296.8 905.3h0M296.9 918.0h0M296.6 920.2h0M296.9 923.3h0M297.0 925.0h0M297.9 885.3h0M298.0 892.5h0M298.4 900.2h0M297.9 910.1h0M298.0 918.4h0M298.5 921.4h0M298.0 929.0h0M299.4 928.8h0M299.4 934.6h0M300.4 926.9h0M300.5 929.7h0M300.8 932.5h0M300.6 937.8h0M301.9 937.4h0M301.8 945.6h0M301.7 950.4h0M311.1 930.8h0M310.9 935.9h0M312.0 932.5h0M316.8 937.7h0M317.4 953.8h0M316.8 956.3h0M318.2 938.4h0M318.4 945.5h0M319.6 917.8h0M319.1 928.2h0M321.1 883.1h0M320.9 886.1h0M321.0 894.4h0M320.4 897.7h0M321.1 901.1h0M322.1 800.6h0M321.7 815.3h0M321.9 818.8h0M321.6 820.7h0M321.9 850.5h0M322.1 855.0h0M322.0 859.1h0M322.3 870.3h0M321.8 875.1h0M322.0 880.5h0M323.6 762.1h0M323.3 777.9h0M323.2 784.3h0M323.4 804.4h0M323.1 810.0h0M323.0 817.0h0M323.4 824.5h0M323.5 828.6h0M323.1 837.7h0M322.9 842.7h0M323.4 845.1h0M323.6 848.2h0M323.2 852.5h0M323.2 861.8h0M324.5 752.4h0M324.6 754.7h0M324.3 757.2h0M324.4 797.6h0M324.3 807.7h0M324.7 812.9h0M324.7 817.8h0M324.4 820.1h0M324.8 824.4h0M324.8 838.1h0M324.3 844.3h0M325.5 743.5h0M325.5 761.7h0M325.6 767.8h0M326.0 769.8h0M325.6 787.7h0M326.1 796.3h0M325.7 806.5h0M325.5 808.8h0M325.8 810.3h0M325.6 816.4h0M325.9 823.4h0M325.6 830.1h0M325.8 832.9h0M325.9 834.6h0M325.9 836.6h0M326.8 750.0h0M327.1 758.0h0M326.8 761.6h0M326.9 767.7h0M326.7 785.3h0M326.7 788.2h0M327.1 791.7h0M327.3 794.0h0M326.7 797.4h0M327.4 801.8h0M326.7 803.9h0M327.3 828.4h0M327.0 833.9h0M327.2 838.2h0M327.9 726.1h0M328.2 733.5h0M327.9 740.3h0M328.5 743.3h0M327.9 746.4h0M328.0 753.3h0M328.1 776.4h0M328.5 786.1h0M328.5 793.6h0M328.3 808.1h0M328.3 811.1h0M328.5 819.1h0M328.1 825.9h0M328.2 830.9h0M328.2 835.0h0M328.0 837.6h0M328.5 844.0h0M329.6 728.6h0M329.2 735.7h0M329.1 745.3h0M329.8 748.4h0M329.4 757.1h0M329.7 773.8h0M329.7 776.5h0M329.3 780.4h0M329.4 785.4h0M329.1 793.1h0M329.4 801.8h0M329.2 808.5h0M329.3 810.4h0M329.5 813.2h0M329.5 816.5h0M329.3 819.0h0M329.2 827.2h0M329.1 834.2h0M329.9 836.4h0M329.8 840.8h0M329.9 846.6h0M329.7 848.9h0M329.2 852.6h0M329.7 854.3h0M331.1 733.0h0M330.4 755.4h0M330.4 764.0h0M330.9 775.5h0M330.9 780.4h0M330.5 782.3h0M331.1 791.3h0M330.7 793.7h0M330.8 806.6h0M331.1 810.0h0M331.0 815.3h0M331.1 830.8h0M330.5 847.1h0M330.8 853.5h0M330.9 857.3h0M330.7 858.9h0M330.5 861.4h0M330.8 866.1h0M331.7 782.4h0M332.3 796.1h0M331.9 799.8h0M331.8 807.8h0M332.4 813.1h0M332.4 846.2h0M332.4 852.2h0M332.3 855.8h0M332.0 859.3h0M332.1 863.0h0M332.1 869.5h0M332.2 871.4h0M332.1 882.2h0M728.3 971.2h0M728.2 974.9h0M728.2 978.9h0M728.6 988.1h0M817.2 965.4h0M816.7 975.1h0M818.0 943.7h0M818.0 948.6h0M818.6 954.3h0M817.9 958.4h0M819.5 929.7h0M819.8 938.5h0M822.1 879.9h0M822.2 912.2h0M823.5 847.8h0M822.9 857.7h0M823.6 868.4h0M823.3 873.3h0M823.6 875.6h0M823.5 883.0h0M822.9 885.4h0M823.5 887.9h0M824.2 788.8h0M824.5 792.4h0M824.7 795.8h0M824.3 804.8h0M824.8 823.6h0M824.5 826.5h0M824.3 829.3h0M824.4 832.8h0M824.4 851.5h0M824.3 859.7h0M824.5 867.3h0M824.6 869.0h0M826.1 820.9h0M825.6 826.7h0M825.9 829.8h0M825.8 833.8h0M825.8 835.6h0M825.5 840.1h0M825.7 849.5h0M825.5 863.8h0M826.8 790.2h0M827.3 795.0h0M827.2 803.2h0M826.9 824.9h0M827.3 827.9h0M826.7 831.7h0M826.9 834.5h0M826.8 837.2h0M827.3 853.2h0M827.4 860.4h0M826.8 863.0h0M828.5 803.1h0M828.0 805.8h0M828.4 821.8h0M828.3 823.9h0M827.9 830.5h0M828.5 834.0h0M828.1 838.0h0M828.0 852.8h0M828.3 856.2h0M829.1 793.4h0M829.1 802.5h0M829.3 808.2h0M829.3 814.7h0M829.6 825.9h0M829.2 830.8h0M829.7 839.0h0M829.7 849.3h0M829.4 851.4h0M829.3 861.1h0M830.7 822.3h0M830.6 856.8h0M831.1 859.2h0M831.1 865.9h0M830.8 868.4h0M830.5 874.9h0M831.9 850.3h0M832.0 853.3h0M832.3 865.2h0M831.8 885.7h0M831.7 887.4h0M833.2 892.4h0M833.1 907.9h0M838.2 954.3h0M837.9 959.5h0M838.5 961.2h0M842.4 946.9h0M842.0 960.8h0M841.7 964.5h0M841.9 968.3h0M843.5 959.9h0M843.1 964.4h0M843.4 967.3h0M843.3 974.9h0M843.4 976.5h0M846.1 973.9h0M845.8 978.4h0M846.0 980.3h0M923.3 979.6h0M923.0 986.9h0M1391.1 949.8h0M1390.7 967.4h0M1392.1 952.8h0M1391.6 962.7h0M1391.9 966.1h0M1393.0 945.9h0M1393.5 947.6h0M1393.4 952.2h0M1393.6 955.8h0M1393.5 959.6h0M1394.2 949.2h0M1394.7 951.9h0M1395.8 945.3h0M1396.0 949.0h0M1395.7 957.6h0M1395.9 960.2h0M1399.7 968.4h0M1399.6 973.0h0M1410.5 960.2h0M1410.9 974.9h0M1410.8 976.8h0M1418.4 975.9h0M1439.5 980.5h0M1439.1 984.3h0M1439.1 986.1h0M1440.7 975.1h0M1442.2 973.7h0M1442.3 983.7h0M1444.3 971.7h0M1444.8 983.9h0M1444.1 985.4h0M1444.7 987.5h0M1454.3 913.1h0M1454.2 939.5h0M1455.9 868.2h0M1455.5 892.8h0M1455.5 903.4h0M1455.5 905.6h0M1455.5 909.0h0M1456.1 916.9h0M1456.7 864.4h0M1457.3 867.0h0M1457.1 892.3h0M1456.6 898.7h0M1456.8 907.2h0M1458.5 866.7h0M1458.6 871.7h0M1458.4 878.4h0M1457.9 885.2h0M1458.3 891.3h0M1458.6 897.3h0M1458.5 902.7h0M1459.7 850.6h0M1459.2 853.4h0M1459.6 859.8h0M1459.2 875.8h0M1459.3 880.3h0M1459.7 887.7h0M1459.8 897.4h0M1460.9 846.4h0M1460.4 866.2h0M1461.0 871.5h0M1461.1 875.9h0M1461.0 882.6h0M1460.4 885.3h0M1460.4 887.8h0" stroke="#1f77b4" stroke-width="5.4" stroke-linecap="round" fill="none"/>
<path d="M116.5 1001.2 118.3 982.8 120.1 975.9 122.5 982.8 124.8 1001.2 126.4 1007.0 128.7 994.3 131.0 988.6 133.3 1004.7 136.3 988.6 139.0 1007.0 141.8 1001.2 144.1 997.8 146.4 998.9 148.7 986.3 150.6 995.5 152.9 1005.9 154.7 1017.4 157.0 978.2 159.3 992.0 161.6 996.6 163.9 992.0 165.8 969.0 167.9 996.6 170.2 1010.5 172.5 1009.3 174.8 1000.1 177.1 1007.0 179.4 1004.7 181.7 1008.2 184.0 988.6 185.6 987.4 187.4 958.6 188.8 955.2 190.9 902.1 192.5 918.3 194.4 904.5 196.2 872.2 197.8 890.6 199.4 803.0 200.8 801.9 202.4 907.9 204.0 858.4 205.4 867.6 206.8 859.5 208.6 895.2 210.0 927.5 211.6 962.1 213.3 955.2 214.6 971.3 216.0 932.1 217.9 978.2 219.7 941.3 221.6 925.2 223.2 920.6 224.8 895.2 226.2 927.5 227.8 957.5 228.9 948.2 230.3 962.1 231.9 940.2 233.5 950.5 235.4 962.1 237.7 969.0 239.3 982.8 240.9 997.8 242.8 981.7 244.6 994.3 246.4 1008.2 248.3 1009.3 250.1 998.9 252.4 987.4 254.3 982.8 256.6 973.6 258.0 978.2 259.4 962.1 261.2 978.2 263.5 964.4 265.3 939.0 267.0 952.9 268.6 969.0 270.0 945.9 271.8 975.9 273.2 986.3 275.0 980.5 276.9 982.8 278.7 966.7 280.6 955.2 282.4 924.0 283.8 945.9 285.6 973.6 287.5 941.3 289.3 904.5 291.2 945.9 293.0 969.0 294.8 962.1 296.2 971.3 298.1 957.5 299.9 985.1 301.8 975.9 303.6 996.6 305.4 989.7 307.7 998.9 309.6 982.8 311.9 958.6 313.7 987.4 315.1 996.6 317.0 982.8 318.8 1001.2 320.2 1009.3 321.6 941.3 323.4 899.8 325.3 874.5 326.6 909.1 328.0 962.1 329.9 879.1 331.3 964.4 332.2 1031.2 332.4 1032.6 333.1 1016.2 335.1 1022.4 338.2 1022.0 342.2 1022.4 346.3 1021.3 350.4 1020.3 354.5 1022.4 358.6 1019.3 361.6 1016.2 363.7 1020.3 365.7 1017.3 368.7 1019.3 371.8 1017.3 374.9 1013.2 378.5 1006.1 381.0 1011.1 384.0 1013.2 387.1 1017.3 390.2 1014.2 392.2 1011.1 395.3 1016.2 398.3 1018.3 401.4 1020.3 404.4 1017.3 407.5 1020.3 410.6 1020.3 413.6 1017.3 416.7 1020.3 419.7 1018.3 422.8 1019.3 425.9 1015.2 428.9 1017.3 432.0 1015.2 435.0 1016.2 439.1 1009.1 442.2 1012.2 445.2 1017.3 447.9 1011.1 450.3 1014.2 454.4 1016.2 458.5 1013.2 461.5 1016.2 464.6 1015.2 468.7 1016.2 471.7 1013.2 474.8 1020.3 477.9 1016.2 480.9 1015.2 484.0 1018.3 487.0 1020.3 491.1 1019.3 495.2 1020.3 499.3 1021.3 503.4 1022.4 506.4 1018.3 509.5 1022.4 511.5 1025.4 514.6 1023.4 517.6 1024.4 521.7 1025.4 525.8 1026.0 528.8 1023.4 531.9 1022.0 536.0 1023.4 540.1 1022.4 543.1 1023.4 546.2 1019.3 549.2 1022.4 552.3 1018.3 554.3 1022.4 557.4 1020.3 561.5 1017.3 564.5 1021.3 567.6 1017.3 570.7 1019.3 573.7 1020.3 576.8 1016.2 579.8 1014.2 582.9 1012.2 586.0 1017.3 589.0 1016.2 592.1 1018.3 595.1 1014.2 596.8 1011.1 599.2 1018.3 602.3 1016.2 605.3 1014.2 608.4 1018.3 611.4 1014.2 614.5 1019.3 617.6 1017.3 620.6 1019.3 623.7 1018.3 626.7 1017.3 630.0 1016.2 632.2 1017.3 636.3 1018.3 640.4 1016.2 643.5 1012.2 646.1 1022.4 648.6 1013.2 651.6 1017.3 653.7 1021.3 656.3 1014.2 658.7 1019.3 661.8 1011.1 663.8 1007.1 666.5 1014.2 668.9 1011.1 672.0 1016.2 675.1 1020.3 678.1 1015.2 680.2 1017.3 682.2 1008.1 684.2 1015.2 686.3 1011.1 689.3 1017.3 692.4 1015.2 695.5 1018.3 698.5 1015.2 701.6 1009.1 704.0 1017.3 706.7 1015.2 709.7 1020.3 712.8 1014.2 715.9 1011.1 717.9 1014.2 720.3 1004.0 723.0 1010.1 725.6 1012.2 728.1 996.9 729.7 1006.1 731.1 1020.3 734.2 1018.3 737.3 1020.3 740.3 1017.3 743.4 1022.4 745.4 1014.2 747.5 1025.4 750.5 1011.1 753.6 1001.0 755.6 1010.1 758.7 1023.4 761.7 1016.2 764.8 1018.3 768.9 1018.3 773.0 1021.3 776.0 1019.3 778.7 1025.4 781.1 1018.3 784.2 1020.3 787.2 1019.3 789.7 1018.3 791.3 1008.1 793.4 1017.3 796.4 1018.3 799.5 1015.2 801.9 1018.3 804.6 1010.1 807.6 1013.2 810.7 1011.1 813.3 1016.2 815.4 1001.0 817.4 1004.0 819.5 981.6 820.9 989.7 822.3 954.0 823.9 963.2 825.0 920.4 826.0 879.6 826.8 850.8 827.6 879.6 830.1 926.5 832.1 951.0 834.1 985.7 835.8 974.4 837.8 1002.0 839.2 999.9 841.3 984.6 842.7 996.9 844.3 991.8 846.4 1015.2 848.4 1017.3 851.5 1019.3 853.5 1015.2 855.6 1006.1 857.6 1012.2 860.2 1016.2 862.7 1011.1 864.7 1017.3 867.8 1014.2 870.9 1015.2 873.9 1019.3 877.0 1021.3 880.0 1024.4 883.1 1024.0 885.5 1016.2 888.2 1018.3 892.3 1015.2 895.3 1016.2 898.4 1020.3 901.4 1016.2 904.5 1010.1 907.6 1012.2 910.6 1010.1 913.7 1017.3 916.7 1005.0 920.0 1012.2 922.0 1009.1 924.1 1008.1 926.1 1017.3 928.6 1006.1 931.0 1006.1 933.7 1014.2 935.7 1010.1 938.3 1014.2 940.8 1013.2 943.8 1011.1 946.9 1018.3 950.0 1011.1 952.6 1017.3 956.1 1020.3 960.2 1022.4 963.2 1022.4 966.3 1017.3 969.3 1011.1 971.4 1014.2 973.0 1001.0 975.1 1010.1 977.1 1016.2 979.1 1014.2 981.6 1018.3 984.6 1019.3 987.7 1020.3 990.8 1013.2 993.4 1024.4 995.9 1023.4 998.9 1019.3 1001.6 1014.2 1003.6 1022.4 1006.1 1015.2 1009.1 1020.3 1011.8 1018.3 1014.2 1022.4 1017.3 1024.4 1020.3 1024.0 1024.4 1023.4 1027.5 1025.4 1030.5 1023.4 1033.6 1022.4 1036.6 1025.4 1039.7 1018.3 1041.7 1016.2 1043.8 1022.4 1046.4 1019.3 1048.9 1016.2 1051.9 1016.2 1054.6 1014.2 1056.2 1008.1 1058.1 1018.3 1060.1 1024.4 1063.2 1023.4 1066.2 1024.4 1069.3 1024.0 1072.3 1025.4 1074.4 1020.3 1076.4 1019.3 1078.0 1012.2 1080.5 1020.3 1082.5 1017.3 1085.2 1022.4 1087.6 1026.4 1090.7 1025.4 1093.3 1020.3 1095.8 1027.5 1098.8 1024.4 1101.9 1028.5 1105.0 1024.4 1108.0 1026.4 1111.1 1024.4 1114.1 1026.4 1117.2 1027.5 1120.3 1025.4 1123.3 1026.4 1126.4 1023.4 1129.4 1025.4 1132.5 1021.3 1135.6 1023.4 1138.6 1020.3 1140.7 1023.4 1143.7 1019.3 1146.8 1026.4 1149.8 1025.4 1152.9 1023.4 1156.0 1024.4 1158.6 1019.3 1161.0 1023.4 1164.1 1024.4 1167.2 1026.4 1170.2 1021.3 1173.3 1024.4 1176.3 1023.4 1179.4 1024.4 1182.5 1025.4 1185.5 1021.3 1188.6 1023.4 1191.2 1021.3 1193.7 1024.4 1196.7 1025.4 1200.0 1026.4 1201.1 1024.6 1204.4 1024.0 1208.9 1021.8 1213.3 1022.9 1217.7 1026.2 1222.2 1026.2 1226.6 1028.4 1228.8 1022.9 1232.2 1025.1 1236.6 1024.0 1241.0 1025.1 1244.4 1026.2 1246.6 1021.8 1249.9 1024.0 1254.3 1025.1 1258.8 1026.2 1261.7 1019.5 1264.3 1028.4 1266.5 1017.3 1269.9 1022.9 1273.2 1024.0 1276.5 1027.3 1279.8 1022.9 1282.5 1016.2 1285.4 1024.0 1288.7 1020.6 1292.0 1024.0 1294.3 1022.9 1296.5 1015.1 1299.4 1025.1 1302.0 1022.9 1304.7 1007.3 1307.6 1025.1 1310.9 1016.2 1314.2 1022.9 1317.5 1025.1 1320.9 1021.8 1324.2 1022.9 1326.9 1009.6 1328.6 1024.0 1330.8 1010.7 1333.1 1020.6 1336.4 1018.4 1339.3 1014.0 1340.8 1019.5 1342.4 1008.5 1345.3 1021.8 1348.1 1018.4 1350.8 1015.1 1354.1 1022.9 1357.5 1022.9 1360.1 1021.8 1362.3 1012.9 1365.2 1018.4 1368.6 1022.9 1371.9 1014.0 1375.2 1009.6 1378.5 1010.7 1380.7 1016.2 1383.6 1007.3 1385.9 1012.9 1388.5 996.3 1390.3 1009.6 1392.1 965.2 1393.4 949.7 1395.2 1007.3 1397.4 989.6 1399.6 1002.9 1402.9 1009.6 1405.1 1002.9 1408.0 986.3 1409.6 987.4 1411.8 998.5 1414.0 1002.9 1416.2 1018.4 1418.5 989.6 1420.7 1002.9 1424.0 1020.6 1426.2 1011.8 1429.5 1014.0 1432.4 994.0 1434.6 1014.0 1437.3 1011.8 1439.5 1012.9 1441.3 990.7 1442.8 1011.8 1445.1 1002.9 1447.3 1017.3 1449.5 1011.8 1452.4 991.8 1453.9 998.5 1455.5 943.0 1457.3 936.4 1459.0 925.3 1460.6 934.2 1461.9 940.8" stroke="#ff7f0e" stroke-width="2.3" stroke-linejoin="round" fill="none"/>
</g>
<rect x="116.5" y="38.5" width="1346.0" height="480.0" fill="none" stroke="#000" stroke-width="1.1"/>
<rect x="116.5" y="575.5" width="1346.0" height="479.0" fill="none" stroke="#000" stroke-width="1.1"/>
<path d="M116.50 518.5v5M116.50 1054.5v5M284.50 518.5v5M284.50 1054.5v5M452.50 518.5v5M452.50 1054.5v5M620.50 518.5v5M620.50 1054.5v5M789.50 518.5v5M789.50 1054.5v5M957.50 518.5v5M957.50 1054.5v5M1125.50 518.5v5M1125.50 1054.5v5M1294.50 518.5v5M1294.50 1054.5v5M116.5 107.50h-5M116.5 182.50h-5M116.5 256.50h-5M116.5 331.50h-5M116.5 406.50h-5M116.5 481.50h-5M116.5 627.50h-5M116.5 685.50h-5M116.5 742.50h-5M116.5 800.50h-5M116.5 858.50h-5M116.5 916.50h-5M116.5 973.50h-5M116.5 1031.50h-5" stroke="#000" stroke-width="1.1" fill="none"/>
<rect x="1047.6" y="48.4" width="406" height="79.9" rx="2.8" fill="#fff" fill-opacity="0.8" stroke="#ccc" stroke-opacity="0.8" stroke-width="1.1"/>
<circle cx="1073.5" cy="63.5" r="2.7" fill="#1f77b4"/>
<path d="M1052.9 101.9H1092" stroke="#ff7f0e" stroke-width="2.1"/>
<text transform="translate(1106.90,68.60) scale(1.2090,1)" font-size="17.9">Raw Data</text>
<text transform="translate(1106.90,95.60) scale(1.2490,1)" font-size="17.9">Butterworth Filtered Data</text>
<text transform="translate(1107.50,116.50) scale(1.2595,1)" font-size="17.9">(N=6, Tc=3.3333 min, Type: low)</text>
<rect x="1047.6" y="585.4" width="406" height="79.9" rx="2.8" fill="#fff" fill-opacity="0.8" stroke="#ccc" stroke-opacity="0.8" stroke-width="1.1"/>
<circle cx="1073.5" cy="600.5" r="2.7" fill="#1f77b4"/>
<path d="M1052.9 638.9H1092" stroke="#ff7f0e" stroke-width="2.1"/>
<text transform="translate(1106.90,605.60) scale(1.2090,1)" font-size="17.9">Raw Data</text>
<text transform="translate(1106.90,632.60) scale(1.2490,1)" font-size="17.9">Butterworth Filtered Data</text>
<text transform="translate(1107.50,653.50) scale(1.2595,1)" font-size="17.9">(N=6, Tc=3.3333 min, Type: low)</text>
<text transform="translate(117.00,28.90) scale(1.2032,1)" font-size="26.5">(a)</text>
<text transform="translate(117.30,565.80) scale(1.1602,1)" font-size="26.5">(b)</text>
<text transform="translate(634.90,29.90) scale(1.1265,1)" font-size="28.9">10.0 MHz N0000007</text>
<text transform="translate(765.30,1157.80) scale(1.0266,1)" font-size="22.8">UTC</text>
<text transform="translate(66.90,114.10) scale(1.2778,1)" font-size="21.0">0.5</text>
<text transform="translate(66.90,189.10) scale(1.2778,1)" font-size="21.0">0.0</text>
<text transform="translate(49.80,263.10) scale(1.3116,1)" font-size="21.0">−0.5</text>
<text transform="translate(49.80,338.10) scale(1.3116,1)" font-size="21.0">−1.0</text>
<text transform="translate(49.80,413.10) scale(1.3116,1)" font-size="21.0">−1.5</text>
<text transform="translate(49.80,488.10) scale(1.3116,1)" font-size="21.0">−2.0</text>
<text transform="translate(51.40,634.10) scale(1.2927,1)" font-size="21.0">0.35</text>
<text transform="translate(51.40,692.10) scale(1.2927,1)" font-size="21.0">0.30</text>
<text transform="translate(51.40,749.10) scale(1.2927,1)" font-size="21.0">0.25</text>
<text transform="translate(51.40,807.10) scale(1.2927,1)" font-size="21.0">0.20</text>
<text transform="translate(51.40,865.10) scale(1.2927,1)" font-size="21.0">0.15</text>
<text transform="translate(51.40,923.10) scale(1.2927,1)" font-size="21.0">0.10</text>
<text transform="translate(51.40,980.10) scale(1.2927,1)" font-size="21.0">0.05</text>
<text transform="translate(51.40,1038.10) scale(1.2927,1)" font-size="21.0">0.00</text>
<text transform="translate(37.40,390.40) rotate(-90) translate(-0.00,0) scale(1.1484,1)" font-size="23.2">Doppler Shift [Hz]</text>
<text transform="translate(40.40,918.50) rotate(-90) translate(-0.00,0) scale(1.1542,1)" font-size="23.2">Peak Voltage [V]</text>
<text transform="translate(113.20,1078.60) rotate(-30) translate(-110.20,0) scale(1.1974,1)" font-size="23.3">04-20 00</text>
<text transform="translate(281.20,1078.60) rotate(-30) translate(-110.20,0) scale(1.1974,1)" font-size="23.3">04-20 03</text>
<text transform="translate(449.20,1078.60) rotate(-30) translate(-110.20,0) scale(1.1974,1)" font-size="23.3">04-20 06</text>
<text transform="translate(617.20,1078.60) rotate(-30) translate(-110.20,0) scale(1.1974,1)" font-size="23.3">04-20 09</text>
<text transform="translate(786.20,1078.60) rotate(-30) translate(-110.20,0) scale(1.1974,1)" font-size="23.3">04-20 12</text>
<text transform="translate(954.20,1078.60) rotate(-30) translate(-110.20,0) scale(1.1974,1)" font-size="23.3">04-20 15</text>
<text transform="translate(1122.20,1078.60) rotate(-30) translate(-110.20,0) scale(1.1974,1)" font-size="23.3">04-20 18</text>
<text transform="translate(1291.20,1078.60) rotate(-30) translate(-110.20,0) scale(1.1974,1)" font-size="23.3">04-20 21</text>
</svg>
</body></html>
